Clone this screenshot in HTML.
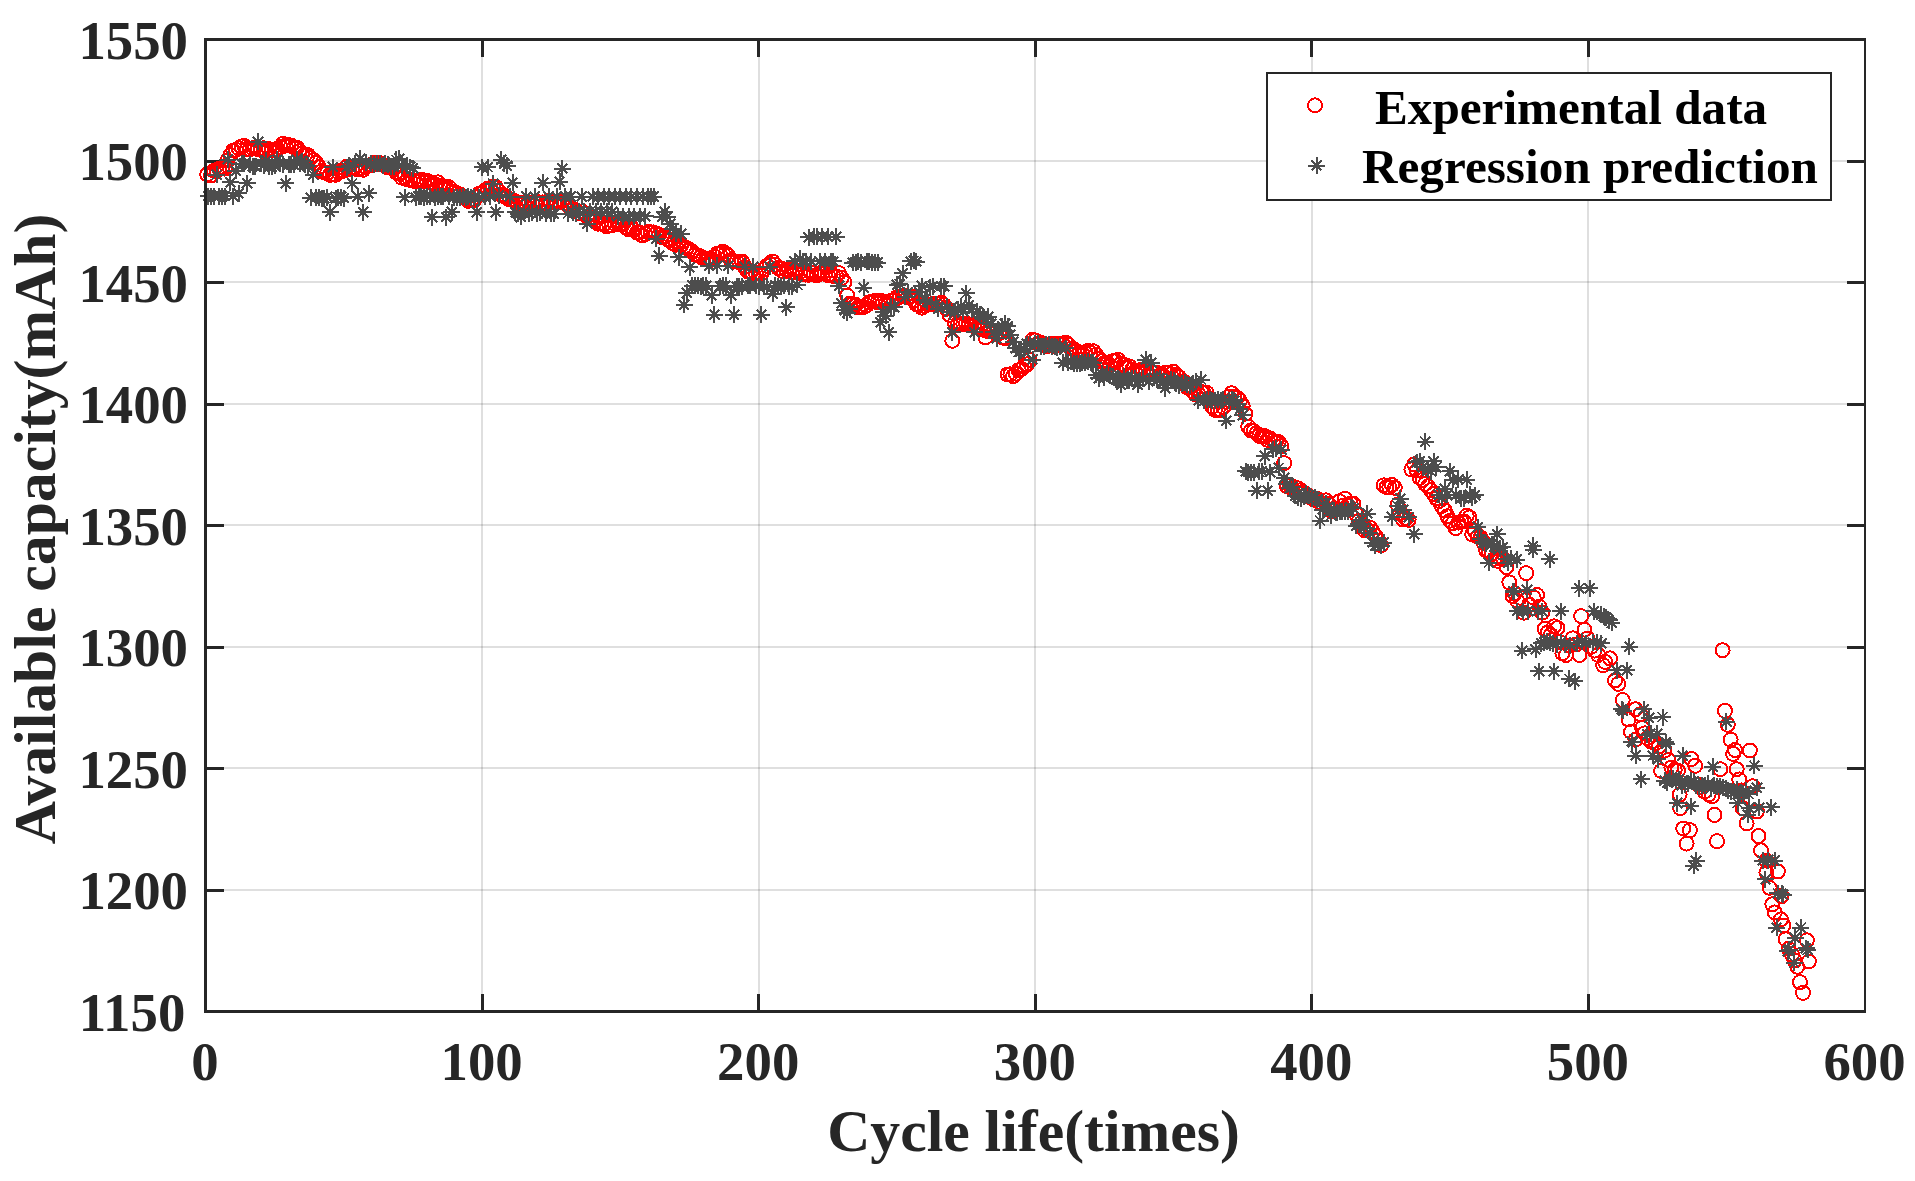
<!DOCTYPE html>
<html><head><meta charset="utf-8"><title>Available capacity vs cycle life</title>
<style>html,body{margin:0;padding:0;background:#fff}svg{display:block}text{font-family:"Liberation Serif","Times New Roman",serif;font-weight:bold}</style></head><body>
<svg width="1915" height="1181" viewBox="0 0 1915 1181">
<rect width="1915" height="1181" fill="#fff"/>
<path d="M482 39.5V1011.5M759 39.5V1011.5M1035 39.5V1011.5M1312 39.5V1011.5M1588 39.5V1011.5" stroke="#262626" stroke-opacity="0.15" stroke-width="2" fill="none" shape-rendering="crispEdges"/>
<path d="M205.5 890H1865.0M205.5 768H1865.0M205.5 647H1865.0M205.5 525H1865.0M205.5 404H1865.0M205.5 282H1865.0M205.5 161H1865.0" stroke="#262626" stroke-opacity="0.15" stroke-width="2" fill="none" shape-rendering="crispEdges"/>
<path d="M482.1 1011.5v-17.4M482.1 39.5v17.4M758.7 1011.5v-17.4M758.7 39.5v17.4M1035.2 1011.5v-17.4M1035.2 39.5v17.4M1311.8 1011.5v-17.4M1311.8 39.5v17.4M1588.4 1011.5v-17.4M1588.4 39.5v17.4M205.5 890.0h18.3M1865.0 890.0h-18.3M205.5 768.5h18.3M1865.0 768.5h-18.3M205.5 647.0h18.3M1865.0 647.0h-18.3M205.5 525.5h18.3M1865.0 525.5h-18.3M205.5 404.0h18.3M1865.0 404.0h-18.3M205.5 282.5h18.3M1865.0 282.5h-18.3M205.5 161.0h18.3M1865.0 161.0h-18.3" stroke="#262626" stroke-width="3" fill="none" shape-rendering="crispEdges"/>
<path d="M200.2 174.4a7.0 7.0 0 1 0 14.0 0a7.0 7.0 0 1 0 -14.0 0M204.0 175.6a7.0 7.0 0 1 0 14.0 0a7.0 7.0 0 1 0 -14.0 0M206.8 170.8a7.0 7.0 0 1 0 14.0 0a7.0 7.0 0 1 0 -14.0 0M209.6 171.2a7.0 7.0 0 1 0 14.0 0a7.0 7.0 0 1 0 -14.0 0M212.3 168.7a7.0 7.0 0 1 0 14.0 0a7.0 7.0 0 1 0 -14.0 0M215.1 168.4a7.0 7.0 0 1 0 14.0 0a7.0 7.0 0 1 0 -14.0 0M217.9 168.6a7.0 7.0 0 1 0 14.0 0a7.0 7.0 0 1 0 -14.0 0M220.6 160.4a7.0 7.0 0 1 0 14.0 0a7.0 7.0 0 1 0 -14.0 0M223.4 155.3a7.0 7.0 0 1 0 14.0 0a7.0 7.0 0 1 0 -14.0 0M226.2 150.6a7.0 7.0 0 1 0 14.0 0a7.0 7.0 0 1 0 -14.0 0M228.9 149.8a7.0 7.0 0 1 0 14.0 0a7.0 7.0 0 1 0 -14.0 0M231.7 148.3a7.0 7.0 0 1 0 14.0 0a7.0 7.0 0 1 0 -14.0 0M234.5 146.4a7.0 7.0 0 1 0 14.0 0a7.0 7.0 0 1 0 -14.0 0M237.2 145.8a7.0 7.0 0 1 0 14.0 0a7.0 7.0 0 1 0 -14.0 0M240.0 148.9a7.0 7.0 0 1 0 14.0 0a7.0 7.0 0 1 0 -14.0 0M242.8 149.3a7.0 7.0 0 1 0 14.0 0a7.0 7.0 0 1 0 -14.0 0M245.5 148.3a7.0 7.0 0 1 0 14.0 0a7.0 7.0 0 1 0 -14.0 0M248.3 147.5a7.0 7.0 0 1 0 14.0 0a7.0 7.0 0 1 0 -14.0 0M251.1 149.0a7.0 7.0 0 1 0 14.0 0a7.0 7.0 0 1 0 -14.0 0M253.8 149.9a7.0 7.0 0 1 0 14.0 0a7.0 7.0 0 1 0 -14.0 0M256.6 148.2a7.0 7.0 0 1 0 14.0 0a7.0 7.0 0 1 0 -14.0 0M259.3 151.6a7.0 7.0 0 1 0 14.0 0a7.0 7.0 0 1 0 -14.0 0M262.1 149.1a7.0 7.0 0 1 0 14.0 0a7.0 7.0 0 1 0 -14.0 0M264.9 150.1a7.0 7.0 0 1 0 14.0 0a7.0 7.0 0 1 0 -14.0 0M267.6 149.7a7.0 7.0 0 1 0 14.0 0a7.0 7.0 0 1 0 -14.0 0M270.4 148.9a7.0 7.0 0 1 0 14.0 0a7.0 7.0 0 1 0 -14.0 0M273.2 147.0a7.0 7.0 0 1 0 14.0 0a7.0 7.0 0 1 0 -14.0 0M275.9 143.9a7.0 7.0 0 1 0 14.0 0a7.0 7.0 0 1 0 -14.0 0M278.7 145.6a7.0 7.0 0 1 0 14.0 0a7.0 7.0 0 1 0 -14.0 0M281.5 145.0a7.0 7.0 0 1 0 14.0 0a7.0 7.0 0 1 0 -14.0 0M284.2 145.6a7.0 7.0 0 1 0 14.0 0a7.0 7.0 0 1 0 -14.0 0M287.0 147.3a7.0 7.0 0 1 0 14.0 0a7.0 7.0 0 1 0 -14.0 0M289.8 147.5a7.0 7.0 0 1 0 14.0 0a7.0 7.0 0 1 0 -14.0 0M292.5 151.1a7.0 7.0 0 1 0 14.0 0a7.0 7.0 0 1 0 -14.0 0M295.3 153.2a7.0 7.0 0 1 0 14.0 0a7.0 7.0 0 1 0 -14.0 0M298.1 154.7a7.0 7.0 0 1 0 14.0 0a7.0 7.0 0 1 0 -14.0 0M300.8 155.0a7.0 7.0 0 1 0 14.0 0a7.0 7.0 0 1 0 -14.0 0M303.6 157.8a7.0 7.0 0 1 0 14.0 0a7.0 7.0 0 1 0 -14.0 0M306.4 160.2a7.0 7.0 0 1 0 14.0 0a7.0 7.0 0 1 0 -14.0 0M309.1 162.9a7.0 7.0 0 1 0 14.0 0a7.0 7.0 0 1 0 -14.0 0M311.9 167.1a7.0 7.0 0 1 0 14.0 0a7.0 7.0 0 1 0 -14.0 0M314.7 171.3a7.0 7.0 0 1 0 14.0 0a7.0 7.0 0 1 0 -14.0 0M317.4 172.3a7.0 7.0 0 1 0 14.0 0a7.0 7.0 0 1 0 -14.0 0M320.2 173.0a7.0 7.0 0 1 0 14.0 0a7.0 7.0 0 1 0 -14.0 0M323.0 174.9a7.0 7.0 0 1 0 14.0 0a7.0 7.0 0 1 0 -14.0 0M325.7 174.2a7.0 7.0 0 1 0 14.0 0a7.0 7.0 0 1 0 -14.0 0M328.5 174.8a7.0 7.0 0 1 0 14.0 0a7.0 7.0 0 1 0 -14.0 0M331.3 172.0a7.0 7.0 0 1 0 14.0 0a7.0 7.0 0 1 0 -14.0 0M334.0 170.9a7.0 7.0 0 1 0 14.0 0a7.0 7.0 0 1 0 -14.0 0M336.8 170.8a7.0 7.0 0 1 0 14.0 0a7.0 7.0 0 1 0 -14.0 0M339.6 166.9a7.0 7.0 0 1 0 14.0 0a7.0 7.0 0 1 0 -14.0 0M342.3 169.4a7.0 7.0 0 1 0 14.0 0a7.0 7.0 0 1 0 -14.0 0M345.1 168.4a7.0 7.0 0 1 0 14.0 0a7.0 7.0 0 1 0 -14.0 0M347.9 167.3a7.0 7.0 0 1 0 14.0 0a7.0 7.0 0 1 0 -14.0 0M350.6 169.4a7.0 7.0 0 1 0 14.0 0a7.0 7.0 0 1 0 -14.0 0M353.4 168.3a7.0 7.0 0 1 0 14.0 0a7.0 7.0 0 1 0 -14.0 0M356.2 169.8a7.0 7.0 0 1 0 14.0 0a7.0 7.0 0 1 0 -14.0 0M358.9 167.1a7.0 7.0 0 1 0 14.0 0a7.0 7.0 0 1 0 -14.0 0M361.7 165.6a7.0 7.0 0 1 0 14.0 0a7.0 7.0 0 1 0 -14.0 0M364.4 165.2a7.0 7.0 0 1 0 14.0 0a7.0 7.0 0 1 0 -14.0 0M367.2 163.1a7.0 7.0 0 1 0 14.0 0a7.0 7.0 0 1 0 -14.0 0M370.0 163.9a7.0 7.0 0 1 0 14.0 0a7.0 7.0 0 1 0 -14.0 0M372.7 163.1a7.0 7.0 0 1 0 14.0 0a7.0 7.0 0 1 0 -14.0 0M375.5 164.6a7.0 7.0 0 1 0 14.0 0a7.0 7.0 0 1 0 -14.0 0M378.3 165.9a7.0 7.0 0 1 0 14.0 0a7.0 7.0 0 1 0 -14.0 0M381.0 167.5a7.0 7.0 0 1 0 14.0 0a7.0 7.0 0 1 0 -14.0 0M383.8 167.6a7.0 7.0 0 1 0 14.0 0a7.0 7.0 0 1 0 -14.0 0M386.6 169.1a7.0 7.0 0 1 0 14.0 0a7.0 7.0 0 1 0 -14.0 0M389.3 172.5a7.0 7.0 0 1 0 14.0 0a7.0 7.0 0 1 0 -14.0 0M392.1 173.7a7.0 7.0 0 1 0 14.0 0a7.0 7.0 0 1 0 -14.0 0M394.9 177.7a7.0 7.0 0 1 0 14.0 0a7.0 7.0 0 1 0 -14.0 0M397.6 177.4a7.0 7.0 0 1 0 14.0 0a7.0 7.0 0 1 0 -14.0 0M400.4 179.5a7.0 7.0 0 1 0 14.0 0a7.0 7.0 0 1 0 -14.0 0M403.2 179.9a7.0 7.0 0 1 0 14.0 0a7.0 7.0 0 1 0 -14.0 0M405.9 180.2a7.0 7.0 0 1 0 14.0 0a7.0 7.0 0 1 0 -14.0 0M408.7 181.7a7.0 7.0 0 1 0 14.0 0a7.0 7.0 0 1 0 -14.0 0M411.5 181.0a7.0 7.0 0 1 0 14.0 0a7.0 7.0 0 1 0 -14.0 0M414.2 179.7a7.0 7.0 0 1 0 14.0 0a7.0 7.0 0 1 0 -14.0 0M417.0 181.7a7.0 7.0 0 1 0 14.0 0a7.0 7.0 0 1 0 -14.0 0M419.8 180.8a7.0 7.0 0 1 0 14.0 0a7.0 7.0 0 1 0 -14.0 0M422.5 182.4a7.0 7.0 0 1 0 14.0 0a7.0 7.0 0 1 0 -14.0 0M425.3 183.2a7.0 7.0 0 1 0 14.0 0a7.0 7.0 0 1 0 -14.0 0M428.1 184.1a7.0 7.0 0 1 0 14.0 0a7.0 7.0 0 1 0 -14.0 0M430.8 182.3a7.0 7.0 0 1 0 14.0 0a7.0 7.0 0 1 0 -14.0 0M433.6 185.6a7.0 7.0 0 1 0 14.0 0a7.0 7.0 0 1 0 -14.0 0M436.4 186.6a7.0 7.0 0 1 0 14.0 0a7.0 7.0 0 1 0 -14.0 0M439.1 187.5a7.0 7.0 0 1 0 14.0 0a7.0 7.0 0 1 0 -14.0 0M441.9 187.2a7.0 7.0 0 1 0 14.0 0a7.0 7.0 0 1 0 -14.0 0M444.7 191.3a7.0 7.0 0 1 0 14.0 0a7.0 7.0 0 1 0 -14.0 0M447.4 192.0a7.0 7.0 0 1 0 14.0 0a7.0 7.0 0 1 0 -14.0 0M450.2 193.7a7.0 7.0 0 1 0 14.0 0a7.0 7.0 0 1 0 -14.0 0M453.0 194.5a7.0 7.0 0 1 0 14.0 0a7.0 7.0 0 1 0 -14.0 0M455.7 196.8a7.0 7.0 0 1 0 14.0 0a7.0 7.0 0 1 0 -14.0 0M458.5 198.7a7.0 7.0 0 1 0 14.0 0a7.0 7.0 0 1 0 -14.0 0M461.3 200.9a7.0 7.0 0 1 0 14.0 0a7.0 7.0 0 1 0 -14.0 0M464.0 200.4a7.0 7.0 0 1 0 14.0 0a7.0 7.0 0 1 0 -14.0 0M466.8 200.6a7.0 7.0 0 1 0 14.0 0a7.0 7.0 0 1 0 -14.0 0M469.6 196.6a7.0 7.0 0 1 0 14.0 0a7.0 7.0 0 1 0 -14.0 0M472.3 193.6a7.0 7.0 0 1 0 14.0 0a7.0 7.0 0 1 0 -14.0 0M475.1 193.6a7.0 7.0 0 1 0 14.0 0a7.0 7.0 0 1 0 -14.0 0M477.8 190.7a7.0 7.0 0 1 0 14.0 0a7.0 7.0 0 1 0 -14.0 0M480.6 188.8a7.0 7.0 0 1 0 14.0 0a7.0 7.0 0 1 0 -14.0 0M483.4 188.2a7.0 7.0 0 1 0 14.0 0a7.0 7.0 0 1 0 -14.0 0M486.1 186.7a7.0 7.0 0 1 0 14.0 0a7.0 7.0 0 1 0 -14.0 0M488.9 186.9a7.0 7.0 0 1 0 14.0 0a7.0 7.0 0 1 0 -14.0 0M491.7 191.2a7.0 7.0 0 1 0 14.0 0a7.0 7.0 0 1 0 -14.0 0M494.4 194.7a7.0 7.0 0 1 0 14.0 0a7.0 7.0 0 1 0 -14.0 0M497.2 195.5a7.0 7.0 0 1 0 14.0 0a7.0 7.0 0 1 0 -14.0 0M500.0 198.0a7.0 7.0 0 1 0 14.0 0a7.0 7.0 0 1 0 -14.0 0M502.7 199.5a7.0 7.0 0 1 0 14.0 0a7.0 7.0 0 1 0 -14.0 0M505.5 200.1a7.0 7.0 0 1 0 14.0 0a7.0 7.0 0 1 0 -14.0 0M508.3 201.6a7.0 7.0 0 1 0 14.0 0a7.0 7.0 0 1 0 -14.0 0M511.0 202.7a7.0 7.0 0 1 0 14.0 0a7.0 7.0 0 1 0 -14.0 0M513.8 202.8a7.0 7.0 0 1 0 14.0 0a7.0 7.0 0 1 0 -14.0 0M516.6 203.2a7.0 7.0 0 1 0 14.0 0a7.0 7.0 0 1 0 -14.0 0M519.3 205.8a7.0 7.0 0 1 0 14.0 0a7.0 7.0 0 1 0 -14.0 0M522.1 203.3a7.0 7.0 0 1 0 14.0 0a7.0 7.0 0 1 0 -14.0 0M524.9 203.2a7.0 7.0 0 1 0 14.0 0a7.0 7.0 0 1 0 -14.0 0M527.6 202.4a7.0 7.0 0 1 0 14.0 0a7.0 7.0 0 1 0 -14.0 0M530.4 202.1a7.0 7.0 0 1 0 14.0 0a7.0 7.0 0 1 0 -14.0 0M533.2 203.0a7.0 7.0 0 1 0 14.0 0a7.0 7.0 0 1 0 -14.0 0M535.9 202.4a7.0 7.0 0 1 0 14.0 0a7.0 7.0 0 1 0 -14.0 0M538.7 202.9a7.0 7.0 0 1 0 14.0 0a7.0 7.0 0 1 0 -14.0 0M541.5 200.8a7.0 7.0 0 1 0 14.0 0a7.0 7.0 0 1 0 -14.0 0M544.2 202.5a7.0 7.0 0 1 0 14.0 0a7.0 7.0 0 1 0 -14.0 0M547.0 202.2a7.0 7.0 0 1 0 14.0 0a7.0 7.0 0 1 0 -14.0 0M549.8 201.5a7.0 7.0 0 1 0 14.0 0a7.0 7.0 0 1 0 -14.0 0M552.5 201.3a7.0 7.0 0 1 0 14.0 0a7.0 7.0 0 1 0 -14.0 0M555.3 200.5a7.0 7.0 0 1 0 14.0 0a7.0 7.0 0 1 0 -14.0 0M558.1 203.2a7.0 7.0 0 1 0 14.0 0a7.0 7.0 0 1 0 -14.0 0M560.8 205.4a7.0 7.0 0 1 0 14.0 0a7.0 7.0 0 1 0 -14.0 0M563.6 207.0a7.0 7.0 0 1 0 14.0 0a7.0 7.0 0 1 0 -14.0 0M566.4 209.2a7.0 7.0 0 1 0 14.0 0a7.0 7.0 0 1 0 -14.0 0M569.1 210.3a7.0 7.0 0 1 0 14.0 0a7.0 7.0 0 1 0 -14.0 0M571.9 212.8a7.0 7.0 0 1 0 14.0 0a7.0 7.0 0 1 0 -14.0 0M574.7 211.3a7.0 7.0 0 1 0 14.0 0a7.0 7.0 0 1 0 -14.0 0M577.4 213.6a7.0 7.0 0 1 0 14.0 0a7.0 7.0 0 1 0 -14.0 0M580.2 216.6a7.0 7.0 0 1 0 14.0 0a7.0 7.0 0 1 0 -14.0 0M583.0 217.7a7.0 7.0 0 1 0 14.0 0a7.0 7.0 0 1 0 -14.0 0M585.7 219.2a7.0 7.0 0 1 0 14.0 0a7.0 7.0 0 1 0 -14.0 0M588.5 221.0a7.0 7.0 0 1 0 14.0 0a7.0 7.0 0 1 0 -14.0 0M591.2 223.7a7.0 7.0 0 1 0 14.0 0a7.0 7.0 0 1 0 -14.0 0M594.0 223.1a7.0 7.0 0 1 0 14.0 0a7.0 7.0 0 1 0 -14.0 0M596.8 224.4a7.0 7.0 0 1 0 14.0 0a7.0 7.0 0 1 0 -14.0 0M599.5 226.3a7.0 7.0 0 1 0 14.0 0a7.0 7.0 0 1 0 -14.0 0M602.3 225.0a7.0 7.0 0 1 0 14.0 0a7.0 7.0 0 1 0 -14.0 0M605.1 225.2a7.0 7.0 0 1 0 14.0 0a7.0 7.0 0 1 0 -14.0 0M607.8 223.9a7.0 7.0 0 1 0 14.0 0a7.0 7.0 0 1 0 -14.0 0M610.6 222.7a7.0 7.0 0 1 0 14.0 0a7.0 7.0 0 1 0 -14.0 0M613.4 224.4a7.0 7.0 0 1 0 14.0 0a7.0 7.0 0 1 0 -14.0 0M616.1 223.8a7.0 7.0 0 1 0 14.0 0a7.0 7.0 0 1 0 -14.0 0M618.9 227.5a7.0 7.0 0 1 0 14.0 0a7.0 7.0 0 1 0 -14.0 0M621.7 229.3a7.0 7.0 0 1 0 14.0 0a7.0 7.0 0 1 0 -14.0 0M624.4 227.5a7.0 7.0 0 1 0 14.0 0a7.0 7.0 0 1 0 -14.0 0M627.2 230.1a7.0 7.0 0 1 0 14.0 0a7.0 7.0 0 1 0 -14.0 0M630.0 232.6a7.0 7.0 0 1 0 14.0 0a7.0 7.0 0 1 0 -14.0 0M632.7 232.5a7.0 7.0 0 1 0 14.0 0a7.0 7.0 0 1 0 -14.0 0M635.5 235.4a7.0 7.0 0 1 0 14.0 0a7.0 7.0 0 1 0 -14.0 0M638.3 234.1a7.0 7.0 0 1 0 14.0 0a7.0 7.0 0 1 0 -14.0 0M641.0 232.2a7.0 7.0 0 1 0 14.0 0a7.0 7.0 0 1 0 -14.0 0M643.8 232.2a7.0 7.0 0 1 0 14.0 0a7.0 7.0 0 1 0 -14.0 0M646.6 232.4a7.0 7.0 0 1 0 14.0 0a7.0 7.0 0 1 0 -14.0 0M649.3 233.5a7.0 7.0 0 1 0 14.0 0a7.0 7.0 0 1 0 -14.0 0M652.1 234.8a7.0 7.0 0 1 0 14.0 0a7.0 7.0 0 1 0 -14.0 0M654.9 237.1a7.0 7.0 0 1 0 14.0 0a7.0 7.0 0 1 0 -14.0 0M657.6 236.6a7.0 7.0 0 1 0 14.0 0a7.0 7.0 0 1 0 -14.0 0M660.4 239.1a7.0 7.0 0 1 0 14.0 0a7.0 7.0 0 1 0 -14.0 0M663.2 239.9a7.0 7.0 0 1 0 14.0 0a7.0 7.0 0 1 0 -14.0 0M665.9 243.1a7.0 7.0 0 1 0 14.0 0a7.0 7.0 0 1 0 -14.0 0M668.7 244.8a7.0 7.0 0 1 0 14.0 0a7.0 7.0 0 1 0 -14.0 0M671.5 244.2a7.0 7.0 0 1 0 14.0 0a7.0 7.0 0 1 0 -14.0 0M674.2 244.9a7.0 7.0 0 1 0 14.0 0a7.0 7.0 0 1 0 -14.0 0M677.0 246.7a7.0 7.0 0 1 0 14.0 0a7.0 7.0 0 1 0 -14.0 0M679.8 248.2a7.0 7.0 0 1 0 14.0 0a7.0 7.0 0 1 0 -14.0 0M682.5 249.7a7.0 7.0 0 1 0 14.0 0a7.0 7.0 0 1 0 -14.0 0M685.3 251.5a7.0 7.0 0 1 0 14.0 0a7.0 7.0 0 1 0 -14.0 0M688.1 254.8a7.0 7.0 0 1 0 14.0 0a7.0 7.0 0 1 0 -14.0 0M690.8 255.3a7.0 7.0 0 1 0 14.0 0a7.0 7.0 0 1 0 -14.0 0M693.6 256.6a7.0 7.0 0 1 0 14.0 0a7.0 7.0 0 1 0 -14.0 0M696.4 258.4a7.0 7.0 0 1 0 14.0 0a7.0 7.0 0 1 0 -14.0 0M699.1 259.1a7.0 7.0 0 1 0 14.0 0a7.0 7.0 0 1 0 -14.0 0M701.9 259.0a7.0 7.0 0 1 0 14.0 0a7.0 7.0 0 1 0 -14.0 0M704.6 259.7a7.0 7.0 0 1 0 14.0 0a7.0 7.0 0 1 0 -14.0 0M707.4 256.5a7.0 7.0 0 1 0 14.0 0a7.0 7.0 0 1 0 -14.0 0M710.2 253.8a7.0 7.0 0 1 0 14.0 0a7.0 7.0 0 1 0 -14.0 0M712.9 253.8a7.0 7.0 0 1 0 14.0 0a7.0 7.0 0 1 0 -14.0 0M715.7 251.6a7.0 7.0 0 1 0 14.0 0a7.0 7.0 0 1 0 -14.0 0M718.5 253.6a7.0 7.0 0 1 0 14.0 0a7.0 7.0 0 1 0 -14.0 0M721.2 256.0a7.0 7.0 0 1 0 14.0 0a7.0 7.0 0 1 0 -14.0 0M724.0 260.2a7.0 7.0 0 1 0 14.0 0a7.0 7.0 0 1 0 -14.0 0M726.8 261.6a7.0 7.0 0 1 0 14.0 0a7.0 7.0 0 1 0 -14.0 0M729.5 261.6a7.0 7.0 0 1 0 14.0 0a7.0 7.0 0 1 0 -14.0 0M732.3 261.7a7.0 7.0 0 1 0 14.0 0a7.0 7.0 0 1 0 -14.0 0M735.1 261.6a7.0 7.0 0 1 0 14.0 0a7.0 7.0 0 1 0 -14.0 0M737.8 267.0a7.0 7.0 0 1 0 14.0 0a7.0 7.0 0 1 0 -14.0 0M740.6 271.4a7.0 7.0 0 1 0 14.0 0a7.0 7.0 0 1 0 -14.0 0M743.4 272.0a7.0 7.0 0 1 0 14.0 0a7.0 7.0 0 1 0 -14.0 0M746.1 273.6a7.0 7.0 0 1 0 14.0 0a7.0 7.0 0 1 0 -14.0 0M748.9 273.3a7.0 7.0 0 1 0 14.0 0a7.0 7.0 0 1 0 -14.0 0M751.7 273.2a7.0 7.0 0 1 0 14.0 0a7.0 7.0 0 1 0 -14.0 0M754.4 273.5a7.0 7.0 0 1 0 14.0 0a7.0 7.0 0 1 0 -14.0 0M757.2 269.1a7.0 7.0 0 1 0 14.0 0a7.0 7.0 0 1 0 -14.0 0M760.0 265.8a7.0 7.0 0 1 0 14.0 0a7.0 7.0 0 1 0 -14.0 0M762.7 263.8a7.0 7.0 0 1 0 14.0 0a7.0 7.0 0 1 0 -14.0 0M765.5 261.5a7.0 7.0 0 1 0 14.0 0a7.0 7.0 0 1 0 -14.0 0M768.3 264.7a7.0 7.0 0 1 0 14.0 0a7.0 7.0 0 1 0 -14.0 0M771.0 268.0a7.0 7.0 0 1 0 14.0 0a7.0 7.0 0 1 0 -14.0 0M773.8 268.2a7.0 7.0 0 1 0 14.0 0a7.0 7.0 0 1 0 -14.0 0M776.6 271.5a7.0 7.0 0 1 0 14.0 0a7.0 7.0 0 1 0 -14.0 0M779.3 270.2a7.0 7.0 0 1 0 14.0 0a7.0 7.0 0 1 0 -14.0 0M782.1 269.9a7.0 7.0 0 1 0 14.0 0a7.0 7.0 0 1 0 -14.0 0M784.9 272.1a7.0 7.0 0 1 0 14.0 0a7.0 7.0 0 1 0 -14.0 0M787.6 272.4a7.0 7.0 0 1 0 14.0 0a7.0 7.0 0 1 0 -14.0 0M790.4 270.8a7.0 7.0 0 1 0 14.0 0a7.0 7.0 0 1 0 -14.0 0M793.2 271.8a7.0 7.0 0 1 0 14.0 0a7.0 7.0 0 1 0 -14.0 0M795.9 274.1a7.0 7.0 0 1 0 14.0 0a7.0 7.0 0 1 0 -14.0 0M798.7 274.6a7.0 7.0 0 1 0 14.0 0a7.0 7.0 0 1 0 -14.0 0M801.5 274.8a7.0 7.0 0 1 0 14.0 0a7.0 7.0 0 1 0 -14.0 0M804.2 272.6a7.0 7.0 0 1 0 14.0 0a7.0 7.0 0 1 0 -14.0 0M807.0 273.2a7.0 7.0 0 1 0 14.0 0a7.0 7.0 0 1 0 -14.0 0M809.7 275.5a7.0 7.0 0 1 0 14.0 0a7.0 7.0 0 1 0 -14.0 0M812.5 273.2a7.0 7.0 0 1 0 14.0 0a7.0 7.0 0 1 0 -14.0 0M815.3 272.8a7.0 7.0 0 1 0 14.0 0a7.0 7.0 0 1 0 -14.0 0M818.0 273.9a7.0 7.0 0 1 0 14.0 0a7.0 7.0 0 1 0 -14.0 0M820.8 275.0a7.0 7.0 0 1 0 14.0 0a7.0 7.0 0 1 0 -14.0 0M823.6 274.4a7.0 7.0 0 1 0 14.0 0a7.0 7.0 0 1 0 -14.0 0M826.3 275.9a7.0 7.0 0 1 0 14.0 0a7.0 7.0 0 1 0 -14.0 0M829.1 276.3a7.0 7.0 0 1 0 14.0 0a7.0 7.0 0 1 0 -14.0 0M831.9 273.1a7.0 7.0 0 1 0 14.0 0a7.0 7.0 0 1 0 -14.0 0M834.6 278.1a7.0 7.0 0 1 0 14.0 0a7.0 7.0 0 1 0 -14.0 0M837.4 282.4a7.0 7.0 0 1 0 14.0 0a7.0 7.0 0 1 0 -14.0 0M840.2 295.6a7.0 7.0 0 1 0 14.0 0a7.0 7.0 0 1 0 -14.0 0M842.9 303.7a7.0 7.0 0 1 0 14.0 0a7.0 7.0 0 1 0 -14.0 0M845.7 304.4a7.0 7.0 0 1 0 14.0 0a7.0 7.0 0 1 0 -14.0 0M848.5 304.9a7.0 7.0 0 1 0 14.0 0a7.0 7.0 0 1 0 -14.0 0M851.2 307.4a7.0 7.0 0 1 0 14.0 0a7.0 7.0 0 1 0 -14.0 0M854.0 307.6a7.0 7.0 0 1 0 14.0 0a7.0 7.0 0 1 0 -14.0 0M856.8 307.0a7.0 7.0 0 1 0 14.0 0a7.0 7.0 0 1 0 -14.0 0M859.5 305.4a7.0 7.0 0 1 0 14.0 0a7.0 7.0 0 1 0 -14.0 0M862.3 302.3a7.0 7.0 0 1 0 14.0 0a7.0 7.0 0 1 0 -14.0 0M865.1 301.6a7.0 7.0 0 1 0 14.0 0a7.0 7.0 0 1 0 -14.0 0M867.8 300.9a7.0 7.0 0 1 0 14.0 0a7.0 7.0 0 1 0 -14.0 0M870.6 302.5a7.0 7.0 0 1 0 14.0 0a7.0 7.0 0 1 0 -14.0 0M873.4 300.5a7.0 7.0 0 1 0 14.0 0a7.0 7.0 0 1 0 -14.0 0M876.1 303.0a7.0 7.0 0 1 0 14.0 0a7.0 7.0 0 1 0 -14.0 0M878.9 303.3a7.0 7.0 0 1 0 14.0 0a7.0 7.0 0 1 0 -14.0 0M881.7 303.0a7.0 7.0 0 1 0 14.0 0a7.0 7.0 0 1 0 -14.0 0M884.4 300.4a7.0 7.0 0 1 0 14.0 0a7.0 7.0 0 1 0 -14.0 0M887.2 300.4a7.0 7.0 0 1 0 14.0 0a7.0 7.0 0 1 0 -14.0 0M890.0 297.2a7.0 7.0 0 1 0 14.0 0a7.0 7.0 0 1 0 -14.0 0M892.7 297.0a7.0 7.0 0 1 0 14.0 0a7.0 7.0 0 1 0 -14.0 0M895.5 296.3a7.0 7.0 0 1 0 14.0 0a7.0 7.0 0 1 0 -14.0 0M898.3 295.9a7.0 7.0 0 1 0 14.0 0a7.0 7.0 0 1 0 -14.0 0M901.0 297.1a7.0 7.0 0 1 0 14.0 0a7.0 7.0 0 1 0 -14.0 0M903.8 296.3a7.0 7.0 0 1 0 14.0 0a7.0 7.0 0 1 0 -14.0 0M906.6 300.4a7.0 7.0 0 1 0 14.0 0a7.0 7.0 0 1 0 -14.0 0M909.3 304.2a7.0 7.0 0 1 0 14.0 0a7.0 7.0 0 1 0 -14.0 0M912.1 304.7a7.0 7.0 0 1 0 14.0 0a7.0 7.0 0 1 0 -14.0 0M914.9 307.7a7.0 7.0 0 1 0 14.0 0a7.0 7.0 0 1 0 -14.0 0M917.6 306.0a7.0 7.0 0 1 0 14.0 0a7.0 7.0 0 1 0 -14.0 0M920.4 304.5a7.0 7.0 0 1 0 14.0 0a7.0 7.0 0 1 0 -14.0 0M923.1 304.4a7.0 7.0 0 1 0 14.0 0a7.0 7.0 0 1 0 -14.0 0M925.9 304.4a7.0 7.0 0 1 0 14.0 0a7.0 7.0 0 1 0 -14.0 0M928.7 303.6a7.0 7.0 0 1 0 14.0 0a7.0 7.0 0 1 0 -14.0 0M931.4 303.5a7.0 7.0 0 1 0 14.0 0a7.0 7.0 0 1 0 -14.0 0M934.2 302.7a7.0 7.0 0 1 0 14.0 0a7.0 7.0 0 1 0 -14.0 0M937.0 305.0a7.0 7.0 0 1 0 14.0 0a7.0 7.0 0 1 0 -14.0 0M939.7 308.7a7.0 7.0 0 1 0 14.0 0a7.0 7.0 0 1 0 -14.0 0M942.5 314.9a7.0 7.0 0 1 0 14.0 0a7.0 7.0 0 1 0 -14.0 0M945.3 340.8a7.0 7.0 0 1 0 14.0 0a7.0 7.0 0 1 0 -14.0 0M948.0 322.9a7.0 7.0 0 1 0 14.0 0a7.0 7.0 0 1 0 -14.0 0M950.8 324.0a7.0 7.0 0 1 0 14.0 0a7.0 7.0 0 1 0 -14.0 0M953.6 324.1a7.0 7.0 0 1 0 14.0 0a7.0 7.0 0 1 0 -14.0 0M956.3 323.7a7.0 7.0 0 1 0 14.0 0a7.0 7.0 0 1 0 -14.0 0M959.1 323.5a7.0 7.0 0 1 0 14.0 0a7.0 7.0 0 1 0 -14.0 0M961.9 325.3a7.0 7.0 0 1 0 14.0 0a7.0 7.0 0 1 0 -14.0 0M964.6 325.0a7.0 7.0 0 1 0 14.0 0a7.0 7.0 0 1 0 -14.0 0M967.4 326.2a7.0 7.0 0 1 0 14.0 0a7.0 7.0 0 1 0 -14.0 0M970.2 327.2a7.0 7.0 0 1 0 14.0 0a7.0 7.0 0 1 0 -14.0 0M972.9 327.7a7.0 7.0 0 1 0 14.0 0a7.0 7.0 0 1 0 -14.0 0M975.7 329.6a7.0 7.0 0 1 0 14.0 0a7.0 7.0 0 1 0 -14.0 0M978.5 337.4a7.0 7.0 0 1 0 14.0 0a7.0 7.0 0 1 0 -14.0 0M981.2 331.2a7.0 7.0 0 1 0 14.0 0a7.0 7.0 0 1 0 -14.0 0M984.0 330.4a7.0 7.0 0 1 0 14.0 0a7.0 7.0 0 1 0 -14.0 0M986.8 332.0a7.0 7.0 0 1 0 14.0 0a7.0 7.0 0 1 0 -14.0 0M989.5 332.2a7.0 7.0 0 1 0 14.0 0a7.0 7.0 0 1 0 -14.0 0M992.3 333.2a7.0 7.0 0 1 0 14.0 0a7.0 7.0 0 1 0 -14.0 0M995.1 337.4a7.0 7.0 0 1 0 14.0 0a7.0 7.0 0 1 0 -14.0 0M997.8 338.2a7.0 7.0 0 1 0 14.0 0a7.0 7.0 0 1 0 -14.0 0M1000.6 374.5a7.0 7.0 0 1 0 14.0 0a7.0 7.0 0 1 0 -14.0 0M1003.4 374.3a7.0 7.0 0 1 0 14.0 0a7.0 7.0 0 1 0 -14.0 0M1006.1 376.1a7.0 7.0 0 1 0 14.0 0a7.0 7.0 0 1 0 -14.0 0M1008.9 373.7a7.0 7.0 0 1 0 14.0 0a7.0 7.0 0 1 0 -14.0 0M1011.7 370.2a7.0 7.0 0 1 0 14.0 0a7.0 7.0 0 1 0 -14.0 0M1014.4 369.0a7.0 7.0 0 1 0 14.0 0a7.0 7.0 0 1 0 -14.0 0M1017.2 366.1a7.0 7.0 0 1 0 14.0 0a7.0 7.0 0 1 0 -14.0 0M1020.0 364.4a7.0 7.0 0 1 0 14.0 0a7.0 7.0 0 1 0 -14.0 0M1022.7 360.1a7.0 7.0 0 1 0 14.0 0a7.0 7.0 0 1 0 -14.0 0M1025.5 339.9a7.0 7.0 0 1 0 14.0 0a7.0 7.0 0 1 0 -14.0 0M1028.2 340.3a7.0 7.0 0 1 0 14.0 0a7.0 7.0 0 1 0 -14.0 0M1031.0 343.7a7.0 7.0 0 1 0 14.0 0a7.0 7.0 0 1 0 -14.0 0M1033.8 342.7a7.0 7.0 0 1 0 14.0 0a7.0 7.0 0 1 0 -14.0 0M1036.5 343.7a7.0 7.0 0 1 0 14.0 0a7.0 7.0 0 1 0 -14.0 0M1039.3 346.4a7.0 7.0 0 1 0 14.0 0a7.0 7.0 0 1 0 -14.0 0M1042.1 344.6a7.0 7.0 0 1 0 14.0 0a7.0 7.0 0 1 0 -14.0 0M1044.8 344.0a7.0 7.0 0 1 0 14.0 0a7.0 7.0 0 1 0 -14.0 0M1047.6 346.3a7.0 7.0 0 1 0 14.0 0a7.0 7.0 0 1 0 -14.0 0M1050.4 343.5a7.0 7.0 0 1 0 14.0 0a7.0 7.0 0 1 0 -14.0 0M1053.1 345.1a7.0 7.0 0 1 0 14.0 0a7.0 7.0 0 1 0 -14.0 0M1055.9 344.5a7.0 7.0 0 1 0 14.0 0a7.0 7.0 0 1 0 -14.0 0M1058.7 342.6a7.0 7.0 0 1 0 14.0 0a7.0 7.0 0 1 0 -14.0 0M1061.4 344.8a7.0 7.0 0 1 0 14.0 0a7.0 7.0 0 1 0 -14.0 0M1064.2 348.8a7.0 7.0 0 1 0 14.0 0a7.0 7.0 0 1 0 -14.0 0M1067.0 349.6a7.0 7.0 0 1 0 14.0 0a7.0 7.0 0 1 0 -14.0 0M1069.7 351.0a7.0 7.0 0 1 0 14.0 0a7.0 7.0 0 1 0 -14.0 0M1072.5 353.3a7.0 7.0 0 1 0 14.0 0a7.0 7.0 0 1 0 -14.0 0M1075.3 353.4a7.0 7.0 0 1 0 14.0 0a7.0 7.0 0 1 0 -14.0 0M1078.0 352.7a7.0 7.0 0 1 0 14.0 0a7.0 7.0 0 1 0 -14.0 0M1080.8 350.9a7.0 7.0 0 1 0 14.0 0a7.0 7.0 0 1 0 -14.0 0M1083.6 353.0a7.0 7.0 0 1 0 14.0 0a7.0 7.0 0 1 0 -14.0 0M1086.3 351.2a7.0 7.0 0 1 0 14.0 0a7.0 7.0 0 1 0 -14.0 0M1089.1 354.6a7.0 7.0 0 1 0 14.0 0a7.0 7.0 0 1 0 -14.0 0M1091.9 359.2a7.0 7.0 0 1 0 14.0 0a7.0 7.0 0 1 0 -14.0 0M1094.6 361.2a7.0 7.0 0 1 0 14.0 0a7.0 7.0 0 1 0 -14.0 0M1097.4 363.3a7.0 7.0 0 1 0 14.0 0a7.0 7.0 0 1 0 -14.0 0M1100.2 364.1a7.0 7.0 0 1 0 14.0 0a7.0 7.0 0 1 0 -14.0 0M1102.9 364.9a7.0 7.0 0 1 0 14.0 0a7.0 7.0 0 1 0 -14.0 0M1105.7 361.1a7.0 7.0 0 1 0 14.0 0a7.0 7.0 0 1 0 -14.0 0M1108.5 361.1a7.0 7.0 0 1 0 14.0 0a7.0 7.0 0 1 0 -14.0 0M1111.2 359.8a7.0 7.0 0 1 0 14.0 0a7.0 7.0 0 1 0 -14.0 0M1114.0 363.9a7.0 7.0 0 1 0 14.0 0a7.0 7.0 0 1 0 -14.0 0M1116.8 364.9a7.0 7.0 0 1 0 14.0 0a7.0 7.0 0 1 0 -14.0 0M1119.5 367.3a7.0 7.0 0 1 0 14.0 0a7.0 7.0 0 1 0 -14.0 0M1122.3 366.3a7.0 7.0 0 1 0 14.0 0a7.0 7.0 0 1 0 -14.0 0M1125.1 369.7a7.0 7.0 0 1 0 14.0 0a7.0 7.0 0 1 0 -14.0 0M1127.8 371.7a7.0 7.0 0 1 0 14.0 0a7.0 7.0 0 1 0 -14.0 0M1130.6 371.5a7.0 7.0 0 1 0 14.0 0a7.0 7.0 0 1 0 -14.0 0M1133.4 370.1a7.0 7.0 0 1 0 14.0 0a7.0 7.0 0 1 0 -14.0 0M1136.1 370.8a7.0 7.0 0 1 0 14.0 0a7.0 7.0 0 1 0 -14.0 0M1138.9 373.0a7.0 7.0 0 1 0 14.0 0a7.0 7.0 0 1 0 -14.0 0M1141.6 373.8a7.0 7.0 0 1 0 14.0 0a7.0 7.0 0 1 0 -14.0 0M1144.4 371.5a7.0 7.0 0 1 0 14.0 0a7.0 7.0 0 1 0 -14.0 0M1147.2 373.0a7.0 7.0 0 1 0 14.0 0a7.0 7.0 0 1 0 -14.0 0M1149.9 372.9a7.0 7.0 0 1 0 14.0 0a7.0 7.0 0 1 0 -14.0 0M1152.7 375.2a7.0 7.0 0 1 0 14.0 0a7.0 7.0 0 1 0 -14.0 0M1155.5 375.0a7.0 7.0 0 1 0 14.0 0a7.0 7.0 0 1 0 -14.0 0M1158.2 372.6a7.0 7.0 0 1 0 14.0 0a7.0 7.0 0 1 0 -14.0 0M1161.0 373.2a7.0 7.0 0 1 0 14.0 0a7.0 7.0 0 1 0 -14.0 0M1163.8 374.1a7.0 7.0 0 1 0 14.0 0a7.0 7.0 0 1 0 -14.0 0M1166.5 371.7a7.0 7.0 0 1 0 14.0 0a7.0 7.0 0 1 0 -14.0 0M1169.3 375.2a7.0 7.0 0 1 0 14.0 0a7.0 7.0 0 1 0 -14.0 0M1172.1 377.2a7.0 7.0 0 1 0 14.0 0a7.0 7.0 0 1 0 -14.0 0M1174.8 382.2a7.0 7.0 0 1 0 14.0 0a7.0 7.0 0 1 0 -14.0 0M1177.6 382.1a7.0 7.0 0 1 0 14.0 0a7.0 7.0 0 1 0 -14.0 0M1180.4 387.4a7.0 7.0 0 1 0 14.0 0a7.0 7.0 0 1 0 -14.0 0M1183.1 387.4a7.0 7.0 0 1 0 14.0 0a7.0 7.0 0 1 0 -14.0 0M1185.9 391.6a7.0 7.0 0 1 0 14.0 0a7.0 7.0 0 1 0 -14.0 0M1188.7 394.7a7.0 7.0 0 1 0 14.0 0a7.0 7.0 0 1 0 -14.0 0M1191.4 394.2a7.0 7.0 0 1 0 14.0 0a7.0 7.0 0 1 0 -14.0 0M1194.2 392.0a7.0 7.0 0 1 0 14.0 0a7.0 7.0 0 1 0 -14.0 0M1197.0 393.3a7.0 7.0 0 1 0 14.0 0a7.0 7.0 0 1 0 -14.0 0M1199.7 392.9a7.0 7.0 0 1 0 14.0 0a7.0 7.0 0 1 0 -14.0 0M1202.5 398.6a7.0 7.0 0 1 0 14.0 0a7.0 7.0 0 1 0 -14.0 0M1205.3 406.7a7.0 7.0 0 1 0 14.0 0a7.0 7.0 0 1 0 -14.0 0M1208.0 409.9a7.0 7.0 0 1 0 14.0 0a7.0 7.0 0 1 0 -14.0 0M1210.8 409.8a7.0 7.0 0 1 0 14.0 0a7.0 7.0 0 1 0 -14.0 0M1213.6 410.1a7.0 7.0 0 1 0 14.0 0a7.0 7.0 0 1 0 -14.0 0M1216.3 407.2a7.0 7.0 0 1 0 14.0 0a7.0 7.0 0 1 0 -14.0 0M1219.1 401.8a7.0 7.0 0 1 0 14.0 0a7.0 7.0 0 1 0 -14.0 0M1221.9 396.9a7.0 7.0 0 1 0 14.0 0a7.0 7.0 0 1 0 -14.0 0M1224.6 393.2a7.0 7.0 0 1 0 14.0 0a7.0 7.0 0 1 0 -14.0 0M1227.4 396.7a7.0 7.0 0 1 0 14.0 0a7.0 7.0 0 1 0 -14.0 0M1230.2 397.8a7.0 7.0 0 1 0 14.0 0a7.0 7.0 0 1 0 -14.0 0M1232.9 400.8a7.0 7.0 0 1 0 14.0 0a7.0 7.0 0 1 0 -14.0 0M1235.7 405.9a7.0 7.0 0 1 0 14.0 0a7.0 7.0 0 1 0 -14.0 0M1238.5 413.7a7.0 7.0 0 1 0 14.0 0a7.0 7.0 0 1 0 -14.0 0M1241.2 426.5a7.0 7.0 0 1 0 14.0 0a7.0 7.0 0 1 0 -14.0 0M1244.0 430.4a7.0 7.0 0 1 0 14.0 0a7.0 7.0 0 1 0 -14.0 0M1246.8 431.1a7.0 7.0 0 1 0 14.0 0a7.0 7.0 0 1 0 -14.0 0M1249.5 433.3a7.0 7.0 0 1 0 14.0 0a7.0 7.0 0 1 0 -14.0 0M1252.3 435.9a7.0 7.0 0 1 0 14.0 0a7.0 7.0 0 1 0 -14.0 0M1255.0 436.3a7.0 7.0 0 1 0 14.0 0a7.0 7.0 0 1 0 -14.0 0M1257.8 436.0a7.0 7.0 0 1 0 14.0 0a7.0 7.0 0 1 0 -14.0 0M1260.6 439.9a7.0 7.0 0 1 0 14.0 0a7.0 7.0 0 1 0 -14.0 0M1263.3 438.5a7.0 7.0 0 1 0 14.0 0a7.0 7.0 0 1 0 -14.0 0M1266.1 440.9a7.0 7.0 0 1 0 14.0 0a7.0 7.0 0 1 0 -14.0 0M1268.9 441.7a7.0 7.0 0 1 0 14.0 0a7.0 7.0 0 1 0 -14.0 0M1271.6 442.1a7.0 7.0 0 1 0 14.0 0a7.0 7.0 0 1 0 -14.0 0M1274.4 446.4a7.0 7.0 0 1 0 14.0 0a7.0 7.0 0 1 0 -14.0 0M1277.2 463.1a7.0 7.0 0 1 0 14.0 0a7.0 7.0 0 1 0 -14.0 0M1279.9 486.0a7.0 7.0 0 1 0 14.0 0a7.0 7.0 0 1 0 -14.0 0M1282.7 485.6a7.0 7.0 0 1 0 14.0 0a7.0 7.0 0 1 0 -14.0 0M1285.5 488.4a7.0 7.0 0 1 0 14.0 0a7.0 7.0 0 1 0 -14.0 0M1288.2 487.3a7.0 7.0 0 1 0 14.0 0a7.0 7.0 0 1 0 -14.0 0M1291.0 488.3a7.0 7.0 0 1 0 14.0 0a7.0 7.0 0 1 0 -14.0 0M1293.8 490.2a7.0 7.0 0 1 0 14.0 0a7.0 7.0 0 1 0 -14.0 0M1296.5 492.5a7.0 7.0 0 1 0 14.0 0a7.0 7.0 0 1 0 -14.0 0M1299.3 494.3a7.0 7.0 0 1 0 14.0 0a7.0 7.0 0 1 0 -14.0 0M1302.1 496.8a7.0 7.0 0 1 0 14.0 0a7.0 7.0 0 1 0 -14.0 0M1304.8 498.2a7.0 7.0 0 1 0 14.0 0a7.0 7.0 0 1 0 -14.0 0M1307.6 499.9a7.0 7.0 0 1 0 14.0 0a7.0 7.0 0 1 0 -14.0 0M1310.4 499.1a7.0 7.0 0 1 0 14.0 0a7.0 7.0 0 1 0 -14.0 0M1313.1 502.2a7.0 7.0 0 1 0 14.0 0a7.0 7.0 0 1 0 -14.0 0M1315.9 504.0a7.0 7.0 0 1 0 14.0 0a7.0 7.0 0 1 0 -14.0 0M1318.7 500.3a7.0 7.0 0 1 0 14.0 0a7.0 7.0 0 1 0 -14.0 0M1321.4 504.0a7.0 7.0 0 1 0 14.0 0a7.0 7.0 0 1 0 -14.0 0M1324.2 511.1a7.0 7.0 0 1 0 14.0 0a7.0 7.0 0 1 0 -14.0 0M1327.0 509.6a7.0 7.0 0 1 0 14.0 0a7.0 7.0 0 1 0 -14.0 0M1329.7 509.0a7.0 7.0 0 1 0 14.0 0a7.0 7.0 0 1 0 -14.0 0M1332.5 501.3a7.0 7.0 0 1 0 14.0 0a7.0 7.0 0 1 0 -14.0 0M1335.3 506.0a7.0 7.0 0 1 0 14.0 0a7.0 7.0 0 1 0 -14.0 0M1338.0 498.9a7.0 7.0 0 1 0 14.0 0a7.0 7.0 0 1 0 -14.0 0M1340.8 505.4a7.0 7.0 0 1 0 14.0 0a7.0 7.0 0 1 0 -14.0 0M1343.6 503.5a7.0 7.0 0 1 0 14.0 0a7.0 7.0 0 1 0 -14.0 0M1346.3 503.8a7.0 7.0 0 1 0 14.0 0a7.0 7.0 0 1 0 -14.0 0M1349.1 513.9a7.0 7.0 0 1 0 14.0 0a7.0 7.0 0 1 0 -14.0 0M1351.9 520.8a7.0 7.0 0 1 0 14.0 0a7.0 7.0 0 1 0 -14.0 0M1354.6 522.6a7.0 7.0 0 1 0 14.0 0a7.0 7.0 0 1 0 -14.0 0M1357.4 530.1a7.0 7.0 0 1 0 14.0 0a7.0 7.0 0 1 0 -14.0 0M1360.2 529.7a7.0 7.0 0 1 0 14.0 0a7.0 7.0 0 1 0 -14.0 0M1362.9 527.6a7.0 7.0 0 1 0 14.0 0a7.0 7.0 0 1 0 -14.0 0M1365.7 531.6a7.0 7.0 0 1 0 14.0 0a7.0 7.0 0 1 0 -14.0 0M1368.4 535.6a7.0 7.0 0 1 0 14.0 0a7.0 7.0 0 1 0 -14.0 0M1371.2 540.7a7.0 7.0 0 1 0 14.0 0a7.0 7.0 0 1 0 -14.0 0M1374.0 545.2a7.0 7.0 0 1 0 14.0 0a7.0 7.0 0 1 0 -14.0 0M1376.7 485.3a7.0 7.0 0 1 0 14.0 0a7.0 7.0 0 1 0 -14.0 0M1379.5 487.0a7.0 7.0 0 1 0 14.0 0a7.0 7.0 0 1 0 -14.0 0M1382.3 487.2a7.0 7.0 0 1 0 14.0 0a7.0 7.0 0 1 0 -14.0 0M1385.0 485.0a7.0 7.0 0 1 0 14.0 0a7.0 7.0 0 1 0 -14.0 0M1387.8 487.8a7.0 7.0 0 1 0 14.0 0a7.0 7.0 0 1 0 -14.0 0M1390.6 504.6a7.0 7.0 0 1 0 14.0 0a7.0 7.0 0 1 0 -14.0 0M1393.3 513.2a7.0 7.0 0 1 0 14.0 0a7.0 7.0 0 1 0 -14.0 0M1396.1 519.5a7.0 7.0 0 1 0 14.0 0a7.0 7.0 0 1 0 -14.0 0M1398.9 518.5a7.0 7.0 0 1 0 14.0 0a7.0 7.0 0 1 0 -14.0 0M1401.6 519.9a7.0 7.0 0 1 0 14.0 0a7.0 7.0 0 1 0 -14.0 0M1404.4 469.4a7.0 7.0 0 1 0 14.0 0a7.0 7.0 0 1 0 -14.0 0M1407.2 464.3a7.0 7.0 0 1 0 14.0 0a7.0 7.0 0 1 0 -14.0 0M1409.9 470.5a7.0 7.0 0 1 0 14.0 0a7.0 7.0 0 1 0 -14.0 0M1412.7 477.8a7.0 7.0 0 1 0 14.0 0a7.0 7.0 0 1 0 -14.0 0M1415.5 480.1a7.0 7.0 0 1 0 14.0 0a7.0 7.0 0 1 0 -14.0 0M1418.2 483.9a7.0 7.0 0 1 0 14.0 0a7.0 7.0 0 1 0 -14.0 0M1421.0 486.4a7.0 7.0 0 1 0 14.0 0a7.0 7.0 0 1 0 -14.0 0M1423.8 490.2a7.0 7.0 0 1 0 14.0 0a7.0 7.0 0 1 0 -14.0 0M1426.5 493.8a7.0 7.0 0 1 0 14.0 0a7.0 7.0 0 1 0 -14.0 0M1429.3 498.3a7.0 7.0 0 1 0 14.0 0a7.0 7.0 0 1 0 -14.0 0M1432.1 501.0a7.0 7.0 0 1 0 14.0 0a7.0 7.0 0 1 0 -14.0 0M1434.8 506.0a7.0 7.0 0 1 0 14.0 0a7.0 7.0 0 1 0 -14.0 0M1437.6 510.3a7.0 7.0 0 1 0 14.0 0a7.0 7.0 0 1 0 -14.0 0M1440.4 516.2a7.0 7.0 0 1 0 14.0 0a7.0 7.0 0 1 0 -14.0 0M1443.1 520.7a7.0 7.0 0 1 0 14.0 0a7.0 7.0 0 1 0 -14.0 0M1445.9 523.3a7.0 7.0 0 1 0 14.0 0a7.0 7.0 0 1 0 -14.0 0M1448.7 528.1a7.0 7.0 0 1 0 14.0 0a7.0 7.0 0 1 0 -14.0 0M1451.4 522.6a7.0 7.0 0 1 0 14.0 0a7.0 7.0 0 1 0 -14.0 0M1454.2 521.6a7.0 7.0 0 1 0 14.0 0a7.0 7.0 0 1 0 -14.0 0M1457.0 521.4a7.0 7.0 0 1 0 14.0 0a7.0 7.0 0 1 0 -14.0 0M1459.7 515.7a7.0 7.0 0 1 0 14.0 0a7.0 7.0 0 1 0 -14.0 0M1462.5 517.4a7.0 7.0 0 1 0 14.0 0a7.0 7.0 0 1 0 -14.0 0M1465.3 534.5a7.0 7.0 0 1 0 14.0 0a7.0 7.0 0 1 0 -14.0 0M1468.0 531.1a7.0 7.0 0 1 0 14.0 0a7.0 7.0 0 1 0 -14.0 0M1470.8 536.7a7.0 7.0 0 1 0 14.0 0a7.0 7.0 0 1 0 -14.0 0M1473.5 537.5a7.0 7.0 0 1 0 14.0 0a7.0 7.0 0 1 0 -14.0 0M1476.3 542.2a7.0 7.0 0 1 0 14.0 0a7.0 7.0 0 1 0 -14.0 0M1479.1 550.3a7.0 7.0 0 1 0 14.0 0a7.0 7.0 0 1 0 -14.0 0M1481.8 551.7a7.0 7.0 0 1 0 14.0 0a7.0 7.0 0 1 0 -14.0 0M1484.6 554.0a7.0 7.0 0 1 0 14.0 0a7.0 7.0 0 1 0 -14.0 0M1487.4 558.8a7.0 7.0 0 1 0 14.0 0a7.0 7.0 0 1 0 -14.0 0M1490.1 560.8a7.0 7.0 0 1 0 14.0 0a7.0 7.0 0 1 0 -14.0 0M1492.9 558.6a7.0 7.0 0 1 0 14.0 0a7.0 7.0 0 1 0 -14.0 0M1496.2 558.5a7.0 7.0 0 1 0 14.0 0a7.0 7.0 0 1 0 -14.0 0M1499.5 567.1a7.0 7.0 0 1 0 14.0 0a7.0 7.0 0 1 0 -14.0 0M1502.3 582.4a7.0 7.0 0 1 0 14.0 0a7.0 7.0 0 1 0 -14.0 0M1505.6 596.0a7.0 7.0 0 1 0 14.0 0a7.0 7.0 0 1 0 -14.0 0M1507.6 593.3a7.0 7.0 0 1 0 14.0 0a7.0 7.0 0 1 0 -14.0 0M1510.1 600.8a7.0 7.0 0 1 0 14.0 0a7.0 7.0 0 1 0 -14.0 0M1513.1 597.7a7.0 7.0 0 1 0 14.0 0a7.0 7.0 0 1 0 -14.0 0M1516.7 612.7a7.0 7.0 0 1 0 14.0 0a7.0 7.0 0 1 0 -14.0 0M1519.2 573.1a7.0 7.0 0 1 0 14.0 0a7.0 7.0 0 1 0 -14.0 0M1522.2 604.5a7.0 7.0 0 1 0 14.0 0a7.0 7.0 0 1 0 -14.0 0M1526.7 597.7a7.0 7.0 0 1 0 14.0 0a7.0 7.0 0 1 0 -14.0 0M1530.0 595.0a7.0 7.0 0 1 0 14.0 0a7.0 7.0 0 1 0 -14.0 0M1532.5 606.9a7.0 7.0 0 1 0 14.0 0a7.0 7.0 0 1 0 -14.0 0M1535.2 612.7a7.0 7.0 0 1 0 14.0 0a7.0 7.0 0 1 0 -14.0 0M1537.7 628.8a7.0 7.0 0 1 0 14.0 0a7.0 7.0 0 1 0 -14.0 0M1540.8 632.4a7.0 7.0 0 1 0 14.0 0a7.0 7.0 0 1 0 -14.0 0M1543.8 634.9a7.0 7.0 0 1 0 14.0 0a7.0 7.0 0 1 0 -14.0 0M1547.1 626.3a7.0 7.0 0 1 0 14.0 0a7.0 7.0 0 1 0 -14.0 0M1550.4 628.0a7.0 7.0 0 1 0 14.0 0a7.0 7.0 0 1 0 -14.0 0M1552.9 642.1a7.0 7.0 0 1 0 14.0 0a7.0 7.0 0 1 0 -14.0 0M1555.4 653.3a7.0 7.0 0 1 0 14.0 0a7.0 7.0 0 1 0 -14.0 0M1559.0 655.0a7.0 7.0 0 1 0 14.0 0a7.0 7.0 0 1 0 -14.0 0M1562.1 645.8a7.0 7.0 0 1 0 14.0 0a7.0 7.0 0 1 0 -14.0 0M1565.7 638.3a7.0 7.0 0 1 0 14.0 0a7.0 7.0 0 1 0 -14.0 0M1569.0 644.6a7.0 7.0 0 1 0 14.0 0a7.0 7.0 0 1 0 -14.0 0M1572.6 655.0a7.0 7.0 0 1 0 14.0 0a7.0 7.0 0 1 0 -14.0 0M1574.2 616.1a7.0 7.0 0 1 0 14.0 0a7.0 7.0 0 1 0 -14.0 0M1577.5 629.7a7.0 7.0 0 1 0 14.0 0a7.0 7.0 0 1 0 -14.0 0M1580.6 638.5a7.0 7.0 0 1 0 14.0 0a7.0 7.0 0 1 0 -14.0 0M1584.2 646.8a7.0 7.0 0 1 0 14.0 0a7.0 7.0 0 1 0 -14.0 0M1587.5 650.6a7.0 7.0 0 1 0 14.0 0a7.0 7.0 0 1 0 -14.0 0M1591.1 655.0a7.0 7.0 0 1 0 14.0 0a7.0 7.0 0 1 0 -14.0 0M1596.1 665.2a7.0 7.0 0 1 0 14.0 0a7.0 7.0 0 1 0 -14.0 0M1598.0 661.8a7.0 7.0 0 1 0 14.0 0a7.0 7.0 0 1 0 -14.0 0M1603.0 658.4a7.0 7.0 0 1 0 14.0 0a7.0 7.0 0 1 0 -14.0 0M1608.0 680.5a7.0 7.0 0 1 0 14.0 0a7.0 7.0 0 1 0 -14.0 0M1611.3 683.9a7.0 7.0 0 1 0 14.0 0a7.0 7.0 0 1 0 -14.0 0M1615.7 700.0a7.0 7.0 0 1 0 14.0 0a7.0 7.0 0 1 0 -14.0 0M1621.5 719.4a7.0 7.0 0 1 0 14.0 0a7.0 7.0 0 1 0 -14.0 0M1624.0 732.0a7.0 7.0 0 1 0 14.0 0a7.0 7.0 0 1 0 -14.0 0M1628.4 709.2a7.0 7.0 0 1 0 14.0 0a7.0 7.0 0 1 0 -14.0 0M1628.4 739.8a7.0 7.0 0 1 0 14.0 0a7.0 7.0 0 1 0 -14.0 0M1633.4 714.3a7.0 7.0 0 1 0 14.0 0a7.0 7.0 0 1 0 -14.0 0M1635.1 727.9a7.0 7.0 0 1 0 14.0 0a7.0 7.0 0 1 0 -14.0 0M1640.3 738.1a7.0 7.0 0 1 0 14.0 0a7.0 7.0 0 1 0 -14.0 0M1637.6 733.3a7.0 7.0 0 1 0 14.0 0a7.0 7.0 0 1 0 -14.0 0M1644.5 741.8a7.0 7.0 0 1 0 14.0 0a7.0 7.0 0 1 0 -14.0 0M1648.6 743.2a7.0 7.0 0 1 0 14.0 0a7.0 7.0 0 1 0 -14.0 0M1651.9 746.6a7.0 7.0 0 1 0 14.0 0a7.0 7.0 0 1 0 -14.0 0M1657.5 750.5a7.0 7.0 0 1 0 14.0 0a7.0 7.0 0 1 0 -14.0 0M1654.2 770.9a7.0 7.0 0 1 0 14.0 0a7.0 7.0 0 1 0 -14.0 0M1661.1 760.0a7.0 7.0 0 1 0 14.0 0a7.0 7.0 0 1 0 -14.0 0M1664.4 767.5a7.0 7.0 0 1 0 14.0 0a7.0 7.0 0 1 0 -14.0 0M1667.7 769.7a7.0 7.0 0 1 0 14.0 0a7.0 7.0 0 1 0 -14.0 0M1671.0 770.9a7.0 7.0 0 1 0 14.0 0a7.0 7.0 0 1 0 -14.0 0M1672.7 794.5a7.0 7.0 0 1 0 14.0 0a7.0 7.0 0 1 0 -14.0 0M1673.2 808.1a7.0 7.0 0 1 0 14.0 0a7.0 7.0 0 1 0 -14.0 0M1676.3 828.5a7.0 7.0 0 1 0 14.0 0a7.0 7.0 0 1 0 -14.0 0M1679.6 843.6a7.0 7.0 0 1 0 14.0 0a7.0 7.0 0 1 0 -14.0 0M1682.9 830.2a7.0 7.0 0 1 0 14.0 0a7.0 7.0 0 1 0 -14.0 0M1684.6 759.0a7.0 7.0 0 1 0 14.0 0a7.0 7.0 0 1 0 -14.0 0M1688.2 765.8a7.0 7.0 0 1 0 14.0 0a7.0 7.0 0 1 0 -14.0 0M1691.5 784.5a7.0 7.0 0 1 0 14.0 0a7.0 7.0 0 1 0 -14.0 0M1694.3 786.7a7.0 7.0 0 1 0 14.0 0a7.0 7.0 0 1 0 -14.0 0M1697.6 791.6a7.0 7.0 0 1 0 14.0 0a7.0 7.0 0 1 0 -14.0 0M1701.7 794.5a7.0 7.0 0 1 0 14.0 0a7.0 7.0 0 1 0 -14.0 0M1705.0 796.2a7.0 7.0 0 1 0 14.0 0a7.0 7.0 0 1 0 -14.0 0M1707.5 814.9a7.0 7.0 0 1 0 14.0 0a7.0 7.0 0 1 0 -14.0 0M1710.0 841.2a7.0 7.0 0 1 0 14.0 0a7.0 7.0 0 1 0 -14.0 0M1713.3 769.2a7.0 7.0 0 1 0 14.0 0a7.0 7.0 0 1 0 -14.0 0M1715.6 650.2a7.0 7.0 0 1 0 14.0 0a7.0 7.0 0 1 0 -14.0 0M1718.0 710.9a7.0 7.0 0 1 0 14.0 0a7.0 7.0 0 1 0 -14.0 0M1720.8 724.8a7.0 7.0 0 1 0 14.0 0a7.0 7.0 0 1 0 -14.0 0M1723.6 739.6a7.0 7.0 0 1 0 14.0 0a7.0 7.0 0 1 0 -14.0 0M1726.1 753.9a7.0 7.0 0 1 0 14.0 0a7.0 7.0 0 1 0 -14.0 0M1728.0 750.0a7.0 7.0 0 1 0 14.0 0a7.0 7.0 0 1 0 -14.0 0M1729.7 769.2a7.0 7.0 0 1 0 14.0 0a7.0 7.0 0 1 0 -14.0 0M1732.2 779.4a7.0 7.0 0 1 0 14.0 0a7.0 7.0 0 1 0 -14.0 0M1734.1 790.4a7.0 7.0 0 1 0 14.0 0a7.0 7.0 0 1 0 -14.0 0M1735.5 808.1a7.0 7.0 0 1 0 14.0 0a7.0 7.0 0 1 0 -14.0 0M1739.6 823.4a7.0 7.0 0 1 0 14.0 0a7.0 7.0 0 1 0 -14.0 0M1742.9 750.5a7.0 7.0 0 1 0 14.0 0a7.0 7.0 0 1 0 -14.0 0M1745.7 786.2a7.0 7.0 0 1 0 14.0 0a7.0 7.0 0 1 0 -14.0 0M1749.9 811.5a7.0 7.0 0 1 0 14.0 0a7.0 7.0 0 1 0 -14.0 0M1751.5 836.1a7.0 7.0 0 1 0 14.0 0a7.0 7.0 0 1 0 -14.0 0M1754.0 850.4a7.0 7.0 0 1 0 14.0 0a7.0 7.0 0 1 0 -14.0 0M1759.3 860.6a7.0 7.0 0 1 0 14.0 0a7.0 7.0 0 1 0 -14.0 0M1759.5 872.5a7.0 7.0 0 1 0 14.0 0a7.0 7.0 0 1 0 -14.0 0M1762.6 887.8a7.0 7.0 0 1 0 14.0 0a7.0 7.0 0 1 0 -14.0 0M1765.3 904.3a7.0 7.0 0 1 0 14.0 0a7.0 7.0 0 1 0 -14.0 0M1767.8 912.4a7.0 7.0 0 1 0 14.0 0a7.0 7.0 0 1 0 -14.0 0M1770.9 871.5a7.0 7.0 0 1 0 14.0 0a7.0 7.0 0 1 0 -14.0 0M1774.5 896.1a7.0 7.0 0 1 0 14.0 0a7.0 7.0 0 1 0 -14.0 0M1773.9 919.4a7.0 7.0 0 1 0 14.0 0a7.0 7.0 0 1 0 -14.0 0M1776.4 925.5a7.0 7.0 0 1 0 14.0 0a7.0 7.0 0 1 0 -14.0 0M1778.6 939.3a7.0 7.0 0 1 0 14.0 0a7.0 7.0 0 1 0 -14.0 0M1781.7 948.8a7.0 7.0 0 1 0 14.0 0a7.0 7.0 0 1 0 -14.0 0M1785.0 954.2a7.0 7.0 0 1 0 14.0 0a7.0 7.0 0 1 0 -14.0 0M1787.5 960.5a7.0 7.0 0 1 0 14.0 0a7.0 7.0 0 1 0 -14.0 0M1790.2 966.8a7.0 7.0 0 1 0 14.0 0a7.0 7.0 0 1 0 -14.0 0M1793.0 982.1a7.0 7.0 0 1 0 14.0 0a7.0 7.0 0 1 0 -14.0 0M1796.0 992.8a7.0 7.0 0 1 0 14.0 0a7.0 7.0 0 1 0 -14.0 0M1799.9 940.3a7.0 7.0 0 1 0 14.0 0a7.0 7.0 0 1 0 -14.0 0M1801.9 961.4a7.0 7.0 0 1 0 14.0 0a7.0 7.0 0 1 0 -14.0 0" stroke="#ff0000" stroke-width="2" fill="none" shape-rendering="crispEdges"/>
<path d="M199.8 196.0h17.0M208.3 187.5v17.0M203.3 191.0l10.0 10.0M203.3 201.0l10.0 -10.0M202.5 196.0h17.0M211.0 187.5v17.0M206.0 191.0l10.0 10.0M206.0 201.0l10.0 -10.0M205.3 196.0h17.0M213.8 187.5v17.0M208.8 191.0l10.0 10.0M208.8 201.0l10.0 -10.0M208.1 174.9h17.0M216.6 166.4v17.0M211.6 169.9l10.0 10.0M211.6 179.9l10.0 -10.0M210.8 196.0h17.0M219.3 187.5v17.0M214.3 191.0l10.0 10.0M214.3 201.0l10.0 -10.0M213.6 196.0h17.0M222.1 187.5v17.0M217.1 191.0l10.0 10.0M217.1 201.0l10.0 -10.0M216.4 196.0h17.0M224.9 187.5v17.0M219.9 191.0l10.0 10.0M219.9 201.0l10.0 -10.0M219.1 159.5h17.0M227.6 151.0v17.0M222.6 154.5l10.0 10.0M222.6 164.5l10.0 -10.0M221.9 182.4h17.0M230.4 173.9v17.0M225.4 177.4l10.0 10.0M225.4 187.4l10.0 -10.0M224.7 196.0h17.0M233.2 187.5v17.0M228.2 191.0l10.0 10.0M228.2 201.0l10.0 -10.0M227.4 170.7h17.0M235.9 162.2v17.0M230.9 165.7l10.0 10.0M230.9 175.7l10.0 -10.0M230.2 193.3h17.0M238.7 184.8v17.0M233.7 188.3l10.0 10.0M233.7 198.3l10.0 -10.0M233.0 163.9h17.0M241.5 155.4v17.0M236.5 158.9l10.0 10.0M236.5 168.9l10.0 -10.0M235.7 163.6h17.0M244.2 155.1v17.0M239.2 158.6l10.0 10.0M239.2 168.6l10.0 -10.0M238.5 183.4h17.0M247.0 174.9v17.0M242.0 178.4l10.0 10.0M242.0 188.4l10.0 -10.0M241.3 164.1h17.0M249.8 155.6v17.0M244.8 159.1l10.0 10.0M244.8 169.1l10.0 -10.0M244.0 166.3h17.0M252.5 157.8v17.0M247.5 161.3l10.0 10.0M247.5 171.3l10.0 -10.0M246.8 166.0h17.0M255.3 157.5v17.0M250.3 161.0l10.0 10.0M250.3 171.0l10.0 -10.0M249.6 141.8h17.0M258.1 133.3v17.0M253.1 136.8l10.0 10.0M253.1 146.8l10.0 -10.0M252.3 163.7h17.0M260.8 155.2v17.0M255.8 158.7l10.0 10.0M255.8 168.7l10.0 -10.0M255.1 165.4h17.0M263.6 156.9v17.0M258.6 160.4l10.0 10.0M258.6 170.4l10.0 -10.0M257.8 160.3h17.0M266.3 151.8v17.0M261.3 155.3l10.0 10.0M261.3 165.3l10.0 -10.0M260.6 166.5h17.0M269.1 158.0v17.0M264.1 161.5l10.0 10.0M264.1 171.5l10.0 -10.0M263.4 166.4h17.0M271.9 157.9v17.0M266.9 161.4l10.0 10.0M266.9 171.4l10.0 -10.0M266.1 165.5h17.0M274.6 157.0v17.0M269.6 160.5l10.0 10.0M269.6 170.5l10.0 -10.0M268.9 159.8h17.0M277.4 151.3v17.0M272.4 154.8l10.0 10.0M272.4 164.8l10.0 -10.0M271.7 163.9h17.0M280.2 155.4v17.0M275.2 158.9l10.0 10.0M275.2 168.9l10.0 -10.0M274.4 164.0h17.0M282.9 155.5v17.0M277.9 159.0l10.0 10.0M277.9 169.0l10.0 -10.0M277.2 183.4h17.0M285.7 174.9v17.0M280.7 178.4l10.0 10.0M280.7 188.4l10.0 -10.0M280.0 164.6h17.0M288.5 156.1v17.0M283.5 159.6l10.0 10.0M283.5 169.6l10.0 -10.0M282.7 164.8h17.0M291.2 156.3v17.0M286.2 159.8l10.0 10.0M286.2 169.8l10.0 -10.0M285.5 164.8h17.0M294.0 156.3v17.0M289.0 159.8l10.0 10.0M289.0 169.8l10.0 -10.0M288.3 159.5h17.0M296.8 151.0v17.0M291.8 154.5l10.0 10.0M291.8 164.5l10.0 -10.0M291.0 163.1h17.0M299.5 154.6v17.0M294.5 158.1l10.0 10.0M294.5 168.1l10.0 -10.0M293.8 161.0h17.0M302.3 152.5v17.0M297.3 156.0l10.0 10.0M297.3 166.0l10.0 -10.0M296.6 164.6h17.0M305.1 156.1v17.0M300.1 159.6l10.0 10.0M300.1 169.6l10.0 -10.0M299.3 165.9h17.0M307.8 157.4v17.0M302.8 160.9l10.0 10.0M302.8 170.9l10.0 -10.0M302.1 197.8h17.0M310.6 189.3v17.0M305.6 192.8l10.0 10.0M305.6 202.8l10.0 -10.0M304.9 174.9h17.0M313.4 166.4v17.0M308.4 169.9l10.0 10.0M308.4 179.9l10.0 -10.0M307.6 197.0h17.0M316.1 188.5v17.0M311.1 192.0l10.0 10.0M311.1 202.0l10.0 -10.0M310.4 197.8h17.0M318.9 189.3v17.0M313.9 192.8l10.0 10.0M313.9 202.8l10.0 -10.0M313.2 198.0h17.0M321.7 189.5v17.0M316.7 193.0l10.0 10.0M316.7 203.0l10.0 -10.0M315.9 198.1h17.0M324.4 189.6v17.0M319.4 193.1l10.0 10.0M319.4 203.1l10.0 -10.0M318.7 197.0h17.0M327.2 188.5v17.0M322.2 192.0l10.0 10.0M322.2 202.0l10.0 -10.0M321.5 212.0h17.0M330.0 203.5v17.0M325.0 207.0l10.0 10.0M325.0 217.0l10.0 -10.0M324.2 167.1h17.0M332.7 158.6v17.0M327.7 162.1l10.0 10.0M327.7 172.1l10.0 -10.0M327.0 198.2h17.0M335.5 189.7v17.0M330.5 193.2l10.0 10.0M330.5 203.2l10.0 -10.0M329.8 197.7h17.0M338.3 189.2v17.0M333.3 192.7l10.0 10.0M333.3 202.7l10.0 -10.0M332.5 197.0h17.0M341.0 188.5v17.0M336.0 192.0l10.0 10.0M336.0 202.0l10.0 -10.0M335.3 198.2h17.0M343.8 189.7v17.0M338.8 193.2l10.0 10.0M338.8 203.2l10.0 -10.0M338.1 167.1h17.0M346.6 158.6v17.0M341.6 162.1l10.0 10.0M341.6 172.1l10.0 -10.0M340.8 165.9h17.0M349.3 157.4v17.0M344.3 160.9l10.0 10.0M344.3 170.9l10.0 -10.0M343.6 183.4h17.0M352.1 174.9v17.0M347.1 178.4l10.0 10.0M347.1 188.4l10.0 -10.0M346.4 163.4h17.0M354.9 154.9v17.0M349.9 158.4l10.0 10.0M349.9 168.4l10.0 -10.0M349.1 196.7h17.0M357.6 188.2v17.0M352.6 191.7l10.0 10.0M352.6 201.7l10.0 -10.0M351.9 158.6h17.0M360.4 150.1v17.0M355.4 153.6l10.0 10.0M355.4 163.6l10.0 -10.0M354.7 212.0h17.0M363.2 203.5v17.0M358.2 207.0l10.0 10.0M358.2 217.0l10.0 -10.0M357.4 162.2h17.0M365.9 153.7v17.0M360.9 157.2l10.0 10.0M360.9 167.2l10.0 -10.0M360.2 193.3h17.0M368.7 184.8v17.0M363.7 188.3l10.0 10.0M363.7 198.3l10.0 -10.0M362.9 163.4h17.0M371.4 154.9v17.0M366.4 158.4l10.0 10.0M366.4 168.4l10.0 -10.0M365.7 164.6h17.0M374.2 156.1v17.0M369.2 159.6l10.0 10.0M369.2 169.6l10.0 -10.0M368.5 163.1h17.0M377.0 154.6v17.0M372.0 158.1l10.0 10.0M372.0 168.1l10.0 -10.0M371.2 163.9h17.0M379.7 155.4v17.0M374.7 158.9l10.0 10.0M374.7 168.9l10.0 -10.0M374.0 165.7h17.0M382.5 157.2v17.0M377.5 160.7l10.0 10.0M377.5 170.7l10.0 -10.0M376.8 163.1h17.0M385.3 154.6v17.0M380.3 158.1l10.0 10.0M380.3 168.1l10.0 -10.0M379.5 164.7h17.0M388.0 156.2v17.0M383.0 159.7l10.0 10.0M383.0 169.7l10.0 -10.0M382.3 166.5h17.0M390.8 158.0v17.0M385.8 161.5l10.0 10.0M385.8 171.5l10.0 -10.0M385.1 166.6h17.0M393.6 158.1v17.0M388.6 161.6l10.0 10.0M388.6 171.6l10.0 -10.0M387.8 159.8h17.0M396.3 151.3v17.0M391.3 154.8l10.0 10.0M391.3 164.8l10.0 -10.0M390.6 158.6h17.0M399.1 150.1v17.0M394.1 153.6l10.0 10.0M394.1 163.6l10.0 -10.0M393.4 165.4h17.0M401.9 156.9v17.0M396.9 160.4l10.0 10.0M396.9 170.4l10.0 -10.0M396.1 197.2h17.0M404.6 188.7v17.0M399.6 192.2l10.0 10.0M399.6 202.2l10.0 -10.0M398.9 165.9h17.0M407.4 157.4v17.0M402.4 160.9l10.0 10.0M402.4 170.9l10.0 -10.0M401.7 167.1h17.0M410.2 158.6v17.0M405.2 162.1l10.0 10.0M405.2 172.1l10.0 -10.0M404.4 168.3h17.0M412.9 159.8v17.0M407.9 163.3l10.0 10.0M407.9 173.3l10.0 -10.0M407.2 197.4h17.0M415.7 188.9v17.0M410.7 192.4l10.0 10.0M410.7 202.4l10.0 -10.0M410.0 196.4h17.0M418.5 187.9v17.0M413.5 191.4l10.0 10.0M413.5 201.4l10.0 -10.0M412.7 196.2h17.0M421.2 187.7v17.0M416.2 191.2l10.0 10.0M416.2 201.2l10.0 -10.0M415.5 197.3h17.0M424.0 188.8v17.0M419.0 192.3l10.0 10.0M419.0 202.3l10.0 -10.0M418.3 196.1h17.0M426.8 187.6v17.0M421.8 191.1l10.0 10.0M421.8 201.1l10.0 -10.0M421.0 196.4h17.0M429.5 187.9v17.0M424.5 191.4l10.0 10.0M424.5 201.4l10.0 -10.0M423.8 217.1h17.0M432.3 208.6v17.0M427.3 212.1l10.0 10.0M427.3 222.1l10.0 -10.0M426.6 197.0h17.0M435.1 188.5v17.0M430.1 192.0l10.0 10.0M430.1 202.0l10.0 -10.0M429.3 196.9h17.0M437.8 188.4v17.0M432.8 191.9l10.0 10.0M432.8 201.9l10.0 -10.0M432.1 196.9h17.0M440.6 188.4v17.0M435.6 191.9l10.0 10.0M435.6 201.9l10.0 -10.0M434.9 196.0h17.0M443.4 187.5v17.0M438.4 191.0l10.0 10.0M438.4 201.0l10.0 -10.0M437.6 217.1h17.0M446.1 208.6v17.0M441.1 212.1l10.0 10.0M441.1 222.1l10.0 -10.0M440.4 196.9h17.0M448.9 188.4v17.0M443.9 191.9l10.0 10.0M443.9 201.9l10.0 -10.0M443.2 212.0h17.0M451.7 203.5v17.0M446.7 207.0l10.0 10.0M446.7 217.0l10.0 -10.0M445.9 197.0h17.0M454.4 188.5v17.0M449.4 192.0l10.0 10.0M449.4 202.0l10.0 -10.0M448.7 197.4h17.0M457.2 188.9v17.0M452.2 192.4l10.0 10.0M452.2 202.4l10.0 -10.0M451.5 197.3h17.0M460.0 188.8v17.0M455.0 192.3l10.0 10.0M455.0 202.3l10.0 -10.0M454.2 196.2h17.0M462.7 187.7v17.0M457.7 191.2l10.0 10.0M457.7 201.2l10.0 -10.0M457.0 197.0h17.0M465.5 188.5v17.0M460.5 192.0l10.0 10.0M460.5 202.0l10.0 -10.0M459.8 196.1h17.0M468.3 187.6v17.0M463.3 191.1l10.0 10.0M463.3 201.1l10.0 -10.0M462.5 197.1h17.0M471.0 188.6v17.0M466.0 192.1l10.0 10.0M466.0 202.1l10.0 -10.0M465.3 197.1h17.0M473.8 188.6v17.0M468.8 192.1l10.0 10.0M468.8 202.1l10.0 -10.0M468.1 212.0h17.0M476.6 203.5v17.0M471.6 207.0l10.0 10.0M471.6 217.0l10.0 -10.0M470.8 197.2h17.0M479.3 188.7v17.0M474.3 192.2l10.0 10.0M474.3 202.2l10.0 -10.0M473.6 167.1h17.0M482.1 158.6v17.0M477.1 162.1l10.0 10.0M477.1 172.1l10.0 -10.0M476.3 196.7h17.0M484.8 188.2v17.0M479.8 191.7l10.0 10.0M479.8 201.7l10.0 -10.0M479.1 167.1h17.0M487.6 158.6v17.0M482.6 162.1l10.0 10.0M482.6 172.1l10.0 -10.0M481.9 196.7h17.0M490.4 188.2v17.0M485.4 191.7l10.0 10.0M485.4 201.7l10.0 -10.0M484.6 183.6h17.0M493.1 175.1v17.0M488.1 178.6l10.0 10.0M488.1 188.6l10.0 -10.0M487.4 212.0h17.0M495.9 203.5v17.0M490.9 207.0l10.0 10.0M490.9 217.0l10.0 -10.0M490.2 195.0h17.0M498.7 186.5v17.0M493.7 190.0l10.0 10.0M493.7 200.0l10.0 -10.0M492.9 159.5h17.0M501.4 151.0v17.0M496.4 154.5l10.0 10.0M496.4 164.5l10.0 -10.0M495.7 163.4h17.0M504.2 154.9v17.0M499.2 158.4l10.0 10.0M499.2 168.4l10.0 -10.0M498.5 165.9h17.0M507.0 157.4v17.0M502.0 160.9l10.0 10.0M502.0 170.9l10.0 -10.0M501.2 196.5h17.0M509.7 188.0v17.0M504.7 191.5l10.0 10.0M504.7 201.5l10.0 -10.0M504.0 182.9h17.0M512.5 174.4v17.0M507.5 177.9l10.0 10.0M507.5 187.9l10.0 -10.0M506.8 212.3h17.0M515.3 203.8v17.0M510.3 207.3l10.0 10.0M510.3 217.3l10.0 -10.0M509.5 213.7h17.0M518.0 205.2v17.0M513.0 208.7l10.0 10.0M513.0 218.7l10.0 -10.0M512.3 216.9h17.0M520.8 208.4v17.0M515.8 211.9l10.0 10.0M515.8 221.9l10.0 -10.0M515.1 212.3h17.0M523.6 203.8v17.0M518.6 207.3l10.0 10.0M518.6 217.3l10.0 -10.0M517.8 196.5h17.0M526.3 188.0v17.0M521.3 191.5l10.0 10.0M521.3 201.5l10.0 -10.0M520.6 213.7h17.0M529.1 205.2v17.0M524.1 208.7l10.0 10.0M524.1 218.7l10.0 -10.0M523.4 212.3h17.0M531.9 203.8v17.0M526.9 207.3l10.0 10.0M526.9 217.3l10.0 -10.0M526.1 196.5h17.0M534.6 188.0v17.0M529.6 191.5l10.0 10.0M529.6 201.5l10.0 -10.0M528.9 213.7h17.0M537.4 205.2v17.0M532.4 208.7l10.0 10.0M532.4 218.7l10.0 -10.0M531.7 212.3h17.0M540.2 203.8v17.0M535.2 207.3l10.0 10.0M535.2 217.3l10.0 -10.0M534.4 182.9h17.0M542.9 174.4v17.0M537.9 177.9l10.0 10.0M537.9 187.9l10.0 -10.0M537.2 213.7h17.0M545.7 205.2v17.0M540.7 208.7l10.0 10.0M540.7 218.7l10.0 -10.0M540.0 196.5h17.0M548.5 188.0v17.0M543.5 191.5l10.0 10.0M543.5 201.5l10.0 -10.0M542.7 213.7h17.0M551.2 205.2v17.0M546.2 208.7l10.0 10.0M546.2 218.7l10.0 -10.0M545.5 213.7h17.0M554.0 205.2v17.0M549.0 208.7l10.0 10.0M549.0 218.7l10.0 -10.0M548.3 196.5h17.0M556.8 188.0v17.0M551.8 191.5l10.0 10.0M551.8 201.5l10.0 -10.0M551.0 181.9h17.0M559.5 173.4v17.0M554.5 176.9l10.0 10.0M554.5 186.9l10.0 -10.0M553.8 168.5h17.0M562.3 160.0v17.0M557.3 163.5l10.0 10.0M557.3 173.5l10.0 -10.0M556.6 196.5h17.0M565.1 188.0v17.0M560.1 191.5l10.0 10.0M560.1 201.5l10.0 -10.0M559.3 213.7h17.0M567.8 205.2v17.0M562.8 208.7l10.0 10.0M562.8 218.7l10.0 -10.0M562.1 196.5h17.0M570.6 188.0v17.0M565.6 191.5l10.0 10.0M565.6 201.5l10.0 -10.0M564.9 212.3h17.0M573.4 203.8v17.0M568.4 207.3l10.0 10.0M568.4 217.3l10.0 -10.0M567.6 213.7h17.0M576.1 205.2v17.0M571.1 208.7l10.0 10.0M571.1 218.7l10.0 -10.0M570.4 211.5h17.0M578.9 203.0v17.0M573.9 206.5l10.0 10.0M573.9 216.5l10.0 -10.0M573.2 196.5h17.0M581.7 188.0v17.0M576.7 191.5l10.0 10.0M576.7 201.5l10.0 -10.0M575.9 211.5h17.0M584.4 203.0v17.0M579.4 206.5l10.0 10.0M579.4 216.5l10.0 -10.0M578.7 223.5h17.0M587.2 215.0v17.0M582.2 218.5l10.0 10.0M582.2 228.5l10.0 -10.0M581.5 211.5h17.0M590.0 203.0v17.0M585.0 206.5l10.0 10.0M585.0 216.5l10.0 -10.0M584.2 196.5h17.0M592.7 188.0v17.0M587.7 191.5l10.0 10.0M587.7 201.5l10.0 -10.0M587.0 211.5h17.0M595.5 203.0v17.0M590.5 206.5l10.0 10.0M590.5 216.5l10.0 -10.0M589.7 196.5h17.0M598.2 188.0v17.0M593.2 191.5l10.0 10.0M593.2 201.5l10.0 -10.0M592.5 211.5h17.0M601.0 203.0v17.0M596.0 206.5l10.0 10.0M596.0 216.5l10.0 -10.0M595.3 196.5h17.0M603.8 188.0v17.0M598.8 191.5l10.0 10.0M598.8 201.5l10.0 -10.0M598.0 211.5h17.0M606.5 203.0v17.0M601.5 206.5l10.0 10.0M601.5 216.5l10.0 -10.0M600.8 196.5h17.0M609.3 188.0v17.0M604.3 191.5l10.0 10.0M604.3 201.5l10.0 -10.0M603.6 211.5h17.0M612.1 203.0v17.0M607.1 206.5l10.0 10.0M607.1 216.5l10.0 -10.0M606.3 196.5h17.0M614.8 188.0v17.0M609.8 191.5l10.0 10.0M609.8 201.5l10.0 -10.0M609.1 216.4h17.0M617.6 207.9v17.0M612.6 211.4l10.0 10.0M612.6 221.4l10.0 -10.0M611.9 196.5h17.0M620.4 188.0v17.0M615.4 191.5l10.0 10.0M615.4 201.5l10.0 -10.0M614.6 216.4h17.0M623.1 207.9v17.0M618.1 211.4l10.0 10.0M618.1 221.4l10.0 -10.0M617.4 196.5h17.0M625.9 188.0v17.0M620.9 191.5l10.0 10.0M620.9 201.5l10.0 -10.0M620.2 216.4h17.0M628.7 207.9v17.0M623.7 211.4l10.0 10.0M623.7 221.4l10.0 -10.0M622.9 196.5h17.0M631.4 188.0v17.0M626.4 191.5l10.0 10.0M626.4 201.5l10.0 -10.0M625.7 216.4h17.0M634.2 207.9v17.0M629.2 211.4l10.0 10.0M629.2 221.4l10.0 -10.0M628.5 196.5h17.0M637.0 188.0v17.0M632.0 191.5l10.0 10.0M632.0 201.5l10.0 -10.0M631.2 216.4h17.0M639.7 207.9v17.0M634.7 211.4l10.0 10.0M634.7 221.4l10.0 -10.0M634.0 196.5h17.0M642.5 188.0v17.0M637.5 191.5l10.0 10.0M637.5 201.5l10.0 -10.0M636.8 216.4h17.0M645.3 207.9v17.0M640.3 211.4l10.0 10.0M640.3 221.4l10.0 -10.0M639.5 196.5h17.0M648.0 188.0v17.0M643.0 191.5l10.0 10.0M643.0 201.5l10.0 -10.0M642.3 196.5h17.0M650.8 188.0v17.0M645.8 191.5l10.0 10.0M645.8 201.5l10.0 -10.0M645.1 196.5h17.0M653.6 188.0v17.0M648.6 191.5l10.0 10.0M648.6 201.5l10.0 -10.0M647.8 238.8h17.0M656.3 230.3v17.0M651.3 233.8l10.0 10.0M651.3 243.8l10.0 -10.0M650.6 255.8h17.0M659.1 247.3v17.0M654.1 250.8l10.0 10.0M654.1 260.8l10.0 -10.0M653.4 216.9h17.0M661.9 208.4v17.0M656.9 211.9l10.0 10.0M656.9 221.9l10.0 -10.0M656.1 211.5h17.0M664.6 203.0v17.0M659.6 206.5l10.0 10.0M659.6 216.5l10.0 -10.0M658.9 216.9h17.0M667.4 208.4v17.0M662.4 211.9l10.0 10.0M662.4 221.9l10.0 -10.0M661.7 224.2h17.0M670.2 215.7v17.0M665.2 219.2l10.0 10.0M665.2 229.2l10.0 -10.0M664.4 228.6h17.0M672.9 220.1v17.0M667.9 223.6l10.0 10.0M667.9 233.6l10.0 -10.0M667.2 233.9h17.0M675.7 225.4v17.0M670.7 228.9l10.0 10.0M670.7 238.9l10.0 -10.0M670.0 257.2h17.0M678.5 248.7v17.0M673.5 252.2l10.0 10.0M673.5 262.2l10.0 -10.0M672.7 233.9h17.0M681.2 225.4v17.0M676.2 228.9l10.0 10.0M676.2 238.9l10.0 -10.0M675.5 304.6h17.0M684.0 296.1v17.0M679.0 299.6l10.0 10.0M679.0 309.6l10.0 -10.0M678.3 292.9h17.0M686.8 284.4v17.0M681.8 287.9l10.0 10.0M681.8 297.9l10.0 -10.0M681.0 267.4h17.0M689.5 258.9v17.0M684.5 262.4l10.0 10.0M684.5 272.4l10.0 -10.0M683.8 285.5h17.0M692.3 277.0v17.0M687.3 280.5l10.0 10.0M687.3 290.5l10.0 -10.0M686.6 285.6h17.0M695.1 277.1v17.0M690.1 280.6l10.0 10.0M690.1 290.6l10.0 -10.0M689.3 285.7h17.0M697.8 277.2v17.0M692.8 280.7l10.0 10.0M692.8 290.7l10.0 -10.0M692.1 286.0h17.0M700.6 277.5v17.0M695.6 281.0l10.0 10.0M695.6 291.0l10.0 -10.0M694.9 285.5h17.0M703.4 277.0v17.0M698.4 280.5l10.0 10.0M698.4 290.5l10.0 -10.0M697.6 285.5h17.0M706.1 277.0v17.0M701.1 280.5l10.0 10.0M701.1 290.5l10.0 -10.0M700.4 265.7h17.0M708.9 257.2v17.0M703.9 260.7l10.0 10.0M703.9 270.7l10.0 -10.0M703.1 295.4h17.0M711.6 286.9v17.0M706.6 290.4l10.0 10.0M706.6 300.4l10.0 -10.0M705.9 314.8h17.0M714.4 306.3v17.0M709.4 309.8l10.0 10.0M709.4 319.8l10.0 -10.0M708.7 265.7h17.0M717.2 257.2v17.0M712.2 260.7l10.0 10.0M712.2 270.7l10.0 -10.0M711.4 286.2h17.0M719.9 277.7v17.0M714.9 281.2l10.0 10.0M714.9 291.2l10.0 -10.0M714.2 285.8h17.0M722.7 277.3v17.0M717.7 280.8l10.0 10.0M717.7 290.8l10.0 -10.0M717.0 285.9h17.0M725.5 277.4v17.0M720.5 280.9l10.0 10.0M720.5 290.9l10.0 -10.0M719.7 265.7h17.0M728.2 257.2v17.0M723.2 260.7l10.0 10.0M723.2 270.7l10.0 -10.0M722.5 295.4h17.0M731.0 286.9v17.0M726.0 290.4l10.0 10.0M726.0 300.4l10.0 -10.0M725.3 314.8h17.0M733.8 306.3v17.0M728.8 309.8l10.0 10.0M728.8 319.8l10.0 -10.0M728.0 286.7h17.0M736.5 278.2v17.0M731.5 281.7l10.0 10.0M731.5 291.7l10.0 -10.0M730.8 286.2h17.0M739.3 277.7v17.0M734.3 281.2l10.0 10.0M734.3 291.2l10.0 -10.0M733.6 286.4h17.0M742.1 277.9v17.0M737.1 281.4l10.0 10.0M737.1 291.4l10.0 -10.0M736.3 266.7h17.0M744.8 258.2v17.0M739.8 261.7l10.0 10.0M739.8 271.7l10.0 -10.0M739.1 285.8h17.0M747.6 277.3v17.0M742.6 280.8l10.0 10.0M742.6 290.8l10.0 -10.0M741.9 285.5h17.0M750.4 277.0v17.0M745.4 280.5l10.0 10.0M745.4 290.5l10.0 -10.0M744.6 266.7h17.0M753.1 258.2v17.0M748.1 261.7l10.0 10.0M748.1 271.7l10.0 -10.0M747.4 285.9h17.0M755.9 277.4v17.0M750.9 280.9l10.0 10.0M750.9 290.9l10.0 -10.0M750.2 286.4h17.0M758.7 277.9v17.0M753.7 281.4l10.0 10.0M753.7 291.4l10.0 -10.0M752.9 314.8h17.0M761.4 306.3v17.0M756.4 309.8l10.0 10.0M756.4 319.8l10.0 -10.0M755.7 286.3h17.0M764.2 277.8v17.0M759.2 281.3l10.0 10.0M759.2 291.3l10.0 -10.0M758.5 286.6h17.0M767.0 278.1v17.0M762.0 281.6l10.0 10.0M762.0 291.6l10.0 -10.0M761.2 266.7h17.0M769.7 258.2v17.0M764.7 261.7l10.0 10.0M764.7 271.7l10.0 -10.0M764.0 293.7h17.0M772.5 285.2v17.0M767.5 288.7l10.0 10.0M767.5 298.7l10.0 -10.0M766.8 285.6h17.0M775.3 277.1v17.0M770.3 280.6l10.0 10.0M770.3 290.6l10.0 -10.0M769.5 286.1h17.0M778.0 277.6v17.0M773.0 281.1l10.0 10.0M773.0 291.1l10.0 -10.0M772.3 286.6h17.0M780.8 278.1v17.0M775.8 281.6l10.0 10.0M775.8 291.6l10.0 -10.0M775.1 285.6h17.0M783.6 277.1v17.0M778.6 280.6l10.0 10.0M778.6 290.6l10.0 -10.0M777.8 307.3h17.0M786.3 298.8v17.0M781.3 302.3l10.0 10.0M781.3 312.3l10.0 -10.0M780.6 286.2h17.0M789.1 277.7v17.0M784.1 281.2l10.0 10.0M784.1 291.2l10.0 -10.0M783.4 286.7h17.0M791.9 278.2v17.0M786.9 281.7l10.0 10.0M786.9 291.7l10.0 -10.0M786.1 261.4h17.0M794.6 252.9v17.0M789.6 256.4l10.0 10.0M789.6 266.4l10.0 -10.0M788.9 284.9h17.0M797.4 276.4v17.0M792.4 279.9l10.0 10.0M792.4 289.9l10.0 -10.0M791.7 258.9h17.0M800.2 250.4v17.0M795.2 253.9l10.0 10.0M795.2 263.9l10.0 -10.0M794.4 261.4h17.0M802.9 252.9v17.0M797.9 256.4l10.0 10.0M797.9 266.4l10.0 -10.0M797.2 261.4h17.0M805.7 252.9v17.0M800.7 256.4l10.0 10.0M800.7 266.4l10.0 -10.0M800.0 237.1h17.0M808.5 228.6v17.0M803.5 232.1l10.0 10.0M803.5 242.1l10.0 -10.0M802.7 261.4h17.0M811.2 252.9v17.0M806.2 256.4l10.0 10.0M806.2 266.4l10.0 -10.0M805.5 236.8h17.0M814.0 228.3v17.0M809.0 231.8l10.0 10.0M809.0 241.8l10.0 -10.0M808.2 236.8h17.0M816.7 228.3v17.0M811.7 231.8l10.0 10.0M811.7 241.8l10.0 -10.0M811.0 261.4h17.0M819.5 252.9v17.0M814.5 256.4l10.0 10.0M814.5 266.4l10.0 -10.0M813.8 236.8h17.0M822.3 228.3v17.0M817.3 231.8l10.0 10.0M817.3 241.8l10.0 -10.0M816.5 261.4h17.0M825.0 252.9v17.0M820.0 256.4l10.0 10.0M820.0 266.4l10.0 -10.0M819.3 236.8h17.0M827.8 228.3v17.0M822.8 231.8l10.0 10.0M822.8 241.8l10.0 -10.0M822.1 261.4h17.0M830.6 252.9v17.0M825.6 256.4l10.0 10.0M825.6 266.4l10.0 -10.0M824.8 261.4h17.0M833.3 252.9v17.0M828.3 256.4l10.0 10.0M828.3 266.4l10.0 -10.0M827.6 236.8h17.0M836.1 228.3v17.0M831.1 231.8l10.0 10.0M831.1 241.8l10.0 -10.0M830.4 285.9h17.0M838.9 277.4v17.0M833.9 280.9l10.0 10.0M833.9 290.9l10.0 -10.0M833.1 303.2h17.0M841.6 294.7v17.0M836.6 298.2l10.0 10.0M836.6 308.2l10.0 -10.0M835.9 310.4h17.0M844.4 301.9v17.0M839.4 305.4l10.0 10.0M839.4 315.4l10.0 -10.0M838.7 312.9h17.0M847.2 304.4v17.0M842.2 307.9l10.0 10.0M842.2 317.9l10.0 -10.0M841.4 309.2h17.0M849.9 300.7v17.0M844.9 304.2l10.0 10.0M844.9 314.2l10.0 -10.0M844.2 262.7h17.0M852.7 254.2v17.0M847.7 257.7l10.0 10.0M847.7 267.7l10.0 -10.0M847.0 262.4h17.0M855.5 253.9v17.0M850.5 257.4l10.0 10.0M850.5 267.4l10.0 -10.0M849.7 261.4h17.0M858.2 252.9v17.0M853.2 256.4l10.0 10.0M853.2 266.4l10.0 -10.0M852.5 262.6h17.0M861.0 254.1v17.0M856.0 257.6l10.0 10.0M856.0 267.6l10.0 -10.0M855.3 287.6h17.0M863.8 279.1v17.0M858.8 282.6l10.0 10.0M858.8 292.6l10.0 -10.0M858.0 261.9h17.0M866.5 253.4v17.0M861.5 256.9l10.0 10.0M861.5 266.9l10.0 -10.0M860.8 261.6h17.0M869.3 253.1v17.0M864.3 256.6l10.0 10.0M864.3 266.6l10.0 -10.0M863.6 262.5h17.0M872.1 254.0v17.0M867.1 257.5l10.0 10.0M867.1 267.5l10.0 -10.0M866.3 262.4h17.0M874.8 253.9v17.0M869.8 257.4l10.0 10.0M869.8 267.4l10.0 -10.0M869.1 262.5h17.0M877.6 254.0v17.0M872.6 257.5l10.0 10.0M872.6 267.5l10.0 -10.0M871.9 322.4h17.0M880.4 313.9v17.0M875.4 317.4l10.0 10.0M875.4 327.4l10.0 -10.0M874.6 311.7h17.0M883.1 303.2v17.0M878.1 306.7l10.0 10.0M878.1 316.7l10.0 -10.0M877.4 315.5h17.0M885.9 307.0v17.0M880.9 310.5l10.0 10.0M880.9 320.5l10.0 -10.0M880.2 332.3h17.0M888.7 323.8v17.0M883.7 327.3l10.0 10.0M883.7 337.3l10.0 -10.0M882.9 306.8h17.0M891.4 298.3v17.0M886.4 301.8l10.0 10.0M886.4 311.8l10.0 -10.0M885.7 307.0h17.0M894.2 298.5v17.0M889.2 302.0l10.0 10.0M889.2 312.0l10.0 -10.0M888.5 284.9h17.0M897.0 276.4v17.0M892.0 279.9l10.0 10.0M892.0 289.9l10.0 -10.0M891.2 284.2h17.0M899.7 275.7v17.0M894.7 279.2l10.0 10.0M894.7 289.2l10.0 -10.0M894.0 273.3h17.0M902.5 264.8v17.0M897.5 268.3l10.0 10.0M897.5 278.3l10.0 -10.0M896.8 296.8h17.0M905.3 288.3v17.0M900.3 291.8l10.0 10.0M900.3 301.8l10.0 -10.0M899.5 292.2h17.0M908.0 283.7v17.0M903.0 287.2l10.0 10.0M903.0 297.2l10.0 -10.0M902.3 261.4h17.0M910.8 252.9v17.0M905.8 256.4l10.0 10.0M905.8 266.4l10.0 -10.0M905.1 260.9h17.0M913.6 252.4v17.0M908.6 255.9l10.0 10.0M908.6 265.9l10.0 -10.0M907.8 261.6h17.0M916.3 253.1v17.0M911.3 256.6l10.0 10.0M911.3 266.6l10.0 -10.0M910.6 292.2h17.0M919.1 283.7v17.0M914.1 287.2l10.0 10.0M914.1 297.2l10.0 -10.0M913.4 286.1h17.0M921.9 277.6v17.0M916.9 281.1l10.0 10.0M916.9 291.1l10.0 -10.0M916.1 299.5h17.0M924.6 291.0v17.0M919.6 294.5l10.0 10.0M919.6 304.5l10.0 -10.0M918.9 301.9h17.0M927.4 293.4v17.0M922.4 296.9l10.0 10.0M922.4 306.9l10.0 -10.0M921.6 287.4h17.0M930.1 278.9v17.0M925.1 282.4l10.0 10.0M925.1 292.4l10.0 -10.0M924.4 286.1h17.0M932.9 277.6v17.0M927.9 281.1l10.0 10.0M927.9 291.1l10.0 -10.0M927.2 304.4h17.0M935.7 295.9v17.0M930.7 299.4l10.0 10.0M930.7 309.4l10.0 -10.0M929.9 308.7h17.0M938.4 300.2v17.0M933.4 303.7l10.0 10.0M933.4 313.7l10.0 -10.0M932.7 286.1h17.0M941.2 277.6v17.0M936.2 281.1l10.0 10.0M936.2 291.1l10.0 -10.0M935.5 286.1h17.0M944.0 277.6v17.0M939.0 281.1l10.0 10.0M939.0 291.1l10.0 -10.0M938.2 306.8h17.0M946.7 298.3v17.0M941.7 301.8l10.0 10.0M941.7 311.8l10.0 -10.0M941.0 311.7h17.0M949.5 303.2v17.0M944.5 306.7l10.0 10.0M944.5 316.7l10.0 -10.0M943.8 332.3h17.0M952.3 323.8v17.0M947.3 327.3l10.0 10.0M947.3 337.3l10.0 -10.0M946.5 311.7h17.0M955.0 303.2v17.0M950.0 306.7l10.0 10.0M950.0 316.7l10.0 -10.0M949.3 309.2h17.0M957.8 300.7v17.0M952.8 304.2l10.0 10.0M952.8 314.2l10.0 -10.0M952.1 306.8h17.0M960.6 298.3v17.0M955.6 301.8l10.0 10.0M955.6 311.8l10.0 -10.0M954.8 311.7h17.0M963.3 303.2v17.0M958.3 306.7l10.0 10.0M958.3 316.7l10.0 -10.0M957.6 293.4h17.0M966.1 284.9v17.0M961.1 288.4l10.0 10.0M961.1 298.4l10.0 -10.0M960.4 305.3h17.0M968.9 296.8v17.0M963.9 300.3l10.0 10.0M963.9 310.3l10.0 -10.0M963.1 309.2h17.0M971.6 300.7v17.0M966.6 304.2l10.0 10.0M966.6 314.2l10.0 -10.0M965.9 332.3h17.0M974.4 323.8v17.0M969.4 327.3l10.0 10.0M969.4 337.3l10.0 -10.0M968.7 311.7h17.0M977.2 303.2v17.0M972.2 306.7l10.0 10.0M972.2 316.7l10.0 -10.0M971.4 314.1h17.0M979.9 305.6v17.0M974.9 309.1l10.0 10.0M974.9 319.1l10.0 -10.0M974.2 316.5h17.0M982.7 308.0v17.0M977.7 311.5l10.0 10.0M977.7 321.5l10.0 -10.0M977.0 319.0h17.0M985.5 310.5v17.0M980.5 314.0l10.0 10.0M980.5 324.0l10.0 -10.0M979.7 316.5h17.0M988.2 308.0v17.0M983.2 311.5l10.0 10.0M983.2 321.5l10.0 -10.0M982.5 323.8h17.0M991.0 315.3v17.0M986.0 318.8l10.0 10.0M986.0 328.8l10.0 -10.0M985.3 332.3h17.0M993.8 323.8v17.0M988.8 327.3l10.0 10.0M988.8 337.3l10.0 -10.0M988.0 338.4h17.0M996.5 329.9v17.0M991.5 333.4l10.0 10.0M991.5 343.4l10.0 -10.0M990.8 331.1h17.0M999.3 322.6v17.0M994.3 326.1l10.0 10.0M994.3 336.1l10.0 -10.0M993.6 326.2h17.0M1002.1 317.7v17.0M997.1 321.2l10.0 10.0M997.1 331.2l10.0 -10.0M996.3 323.8h17.0M1004.8 315.3v17.0M999.8 318.8l10.0 10.0M999.8 328.8l10.0 -10.0M999.1 326.2h17.0M1007.6 317.7v17.0M1002.6 321.2l10.0 10.0M1002.6 331.2l10.0 -10.0M1001.9 334.7h17.0M1010.4 326.2v17.0M1005.4 329.7l10.0 10.0M1005.4 339.7l10.0 -10.0M1004.6 342.0h17.0M1013.1 333.5v17.0M1008.1 337.0l10.0 10.0M1008.1 347.0l10.0 -10.0M1007.4 348.1h17.0M1015.9 339.6v17.0M1010.9 343.1l10.0 10.0M1010.9 353.1l10.0 -10.0M1010.2 351.8h17.0M1018.7 343.3v17.0M1013.7 346.8l10.0 10.0M1013.7 356.8l10.0 -10.0M1012.9 350.5h17.0M1021.4 342.0v17.0M1016.4 345.5l10.0 10.0M1016.4 355.5l10.0 -10.0M1015.7 349.3h17.0M1024.2 340.8v17.0M1019.2 344.3l10.0 10.0M1019.2 354.3l10.0 -10.0M1018.5 344.0h17.0M1027.0 335.5v17.0M1022.0 339.0l10.0 10.0M1022.0 349.0l10.0 -10.0M1021.2 344.1h17.0M1029.7 335.6v17.0M1024.7 339.1l10.0 10.0M1024.7 349.1l10.0 -10.0M1024.0 359.5h17.0M1032.5 351.0v17.0M1027.5 354.5l10.0 10.0M1027.5 364.5l10.0 -10.0M1026.8 343.6h17.0M1035.2 335.1v17.0M1030.2 338.6l10.0 10.0M1030.2 348.6l10.0 -10.0M1029.5 343.8h17.0M1038.0 335.3v17.0M1033.0 338.8l10.0 10.0M1033.0 348.8l10.0 -10.0M1032.3 346.1h17.0M1040.8 337.6v17.0M1035.8 341.1l10.0 10.0M1035.8 351.1l10.0 -10.0M1035.0 346.3h17.0M1043.5 337.8v17.0M1038.5 341.3l10.0 10.0M1038.5 351.3l10.0 -10.0M1037.8 344.9h17.0M1046.3 336.4v17.0M1041.3 339.9l10.0 10.0M1041.3 349.9l10.0 -10.0M1040.6 344.7h17.0M1049.1 336.2v17.0M1044.1 339.7l10.0 10.0M1044.1 349.7l10.0 -10.0M1043.3 346.0h17.0M1051.8 337.5v17.0M1046.8 341.0l10.0 10.0M1046.8 351.0l10.0 -10.0M1046.1 346.0h17.0M1054.6 337.5v17.0M1049.6 341.0l10.0 10.0M1049.6 351.0l10.0 -10.0M1048.9 347.6h17.0M1057.4 339.1v17.0M1052.4 342.6l10.0 10.0M1052.4 352.6l10.0 -10.0M1051.6 346.9h17.0M1060.1 338.4v17.0M1055.1 341.9l10.0 10.0M1055.1 351.9l10.0 -10.0M1054.4 362.7h17.0M1062.9 354.2v17.0M1057.9 357.7l10.0 10.0M1057.9 367.7l10.0 -10.0M1057.2 348.1h17.0M1065.7 339.6v17.0M1060.7 343.1l10.0 10.0M1060.7 353.1l10.0 -10.0M1059.9 362.1h17.0M1068.4 353.6v17.0M1063.4 357.1l10.0 10.0M1063.4 367.1l10.0 -10.0M1062.7 361.8h17.0M1071.2 353.3v17.0M1066.2 356.8l10.0 10.0M1066.2 366.8l10.0 -10.0M1065.5 363.5h17.0M1074.0 355.0v17.0M1069.0 358.5l10.0 10.0M1069.0 368.5l10.0 -10.0M1068.2 363.9h17.0M1076.7 355.4v17.0M1071.7 358.9l10.0 10.0M1071.7 368.9l10.0 -10.0M1071.0 363.8h17.0M1079.5 355.3v17.0M1074.5 358.8l10.0 10.0M1074.5 368.8l10.0 -10.0M1073.8 362.9h17.0M1082.3 354.4v17.0M1077.3 357.9l10.0 10.0M1077.3 367.9l10.0 -10.0M1076.5 362.5h17.0M1085.0 354.0v17.0M1080.0 357.5l10.0 10.0M1080.0 367.5l10.0 -10.0M1079.3 361.9h17.0M1087.8 353.4v17.0M1082.8 356.9l10.0 10.0M1082.8 366.9l10.0 -10.0M1082.1 362.4h17.0M1090.6 353.9v17.0M1085.6 357.4l10.0 10.0M1085.6 367.4l10.0 -10.0M1084.8 362.6h17.0M1093.3 354.1v17.0M1088.3 357.6l10.0 10.0M1088.3 367.6l10.0 -10.0M1087.6 374.8h17.0M1096.1 366.3v17.0M1091.1 369.8l10.0 10.0M1091.1 379.8l10.0 -10.0M1090.4 378.2h17.0M1098.9 369.7v17.0M1093.9 373.2l10.0 10.0M1093.9 383.2l10.0 -10.0M1093.1 373.8h17.0M1101.6 365.3v17.0M1096.6 368.8l10.0 10.0M1096.6 378.8l10.0 -10.0M1095.9 377.5h17.0M1104.4 369.0v17.0M1099.4 372.5l10.0 10.0M1099.4 382.5l10.0 -10.0M1098.7 373.5h17.0M1107.2 365.0v17.0M1102.2 368.5l10.0 10.0M1102.2 378.5l10.0 -10.0M1101.4 375.4h17.0M1109.9 366.9v17.0M1104.9 370.4l10.0 10.0M1104.9 380.4l10.0 -10.0M1104.2 376.3h17.0M1112.7 367.8v17.0M1107.7 371.3l10.0 10.0M1107.7 381.3l10.0 -10.0M1107.0 379.2h17.0M1115.5 370.7v17.0M1110.5 374.2l10.0 10.0M1110.5 384.2l10.0 -10.0M1109.7 378.7h17.0M1118.2 370.2v17.0M1113.2 373.7l10.0 10.0M1113.2 383.7l10.0 -10.0M1112.5 384.8h17.0M1121.0 376.3v17.0M1116.0 379.8l10.0 10.0M1116.0 389.8l10.0 -10.0M1115.3 376.4h17.0M1123.8 367.9v17.0M1118.8 371.4l10.0 10.0M1118.8 381.4l10.0 -10.0M1118.0 380.3h17.0M1126.5 371.8v17.0M1121.5 375.3l10.0 10.0M1121.5 385.3l10.0 -10.0M1120.8 380.9h17.0M1129.3 372.4v17.0M1124.3 375.9l10.0 10.0M1124.3 385.9l10.0 -10.0M1123.6 378.2h17.0M1132.1 369.7v17.0M1127.1 373.2l10.0 10.0M1127.1 383.2l10.0 -10.0M1126.3 378.1h17.0M1134.8 369.6v17.0M1129.8 373.1l10.0 10.0M1129.8 383.1l10.0 -10.0M1129.1 384.8h17.0M1137.6 376.3v17.0M1132.6 379.8l10.0 10.0M1132.6 389.8l10.0 -10.0M1131.9 380.9h17.0M1140.4 372.4v17.0M1135.4 375.9l10.0 10.0M1135.4 385.9l10.0 -10.0M1134.6 378.8h17.0M1143.1 370.3v17.0M1138.1 373.8l10.0 10.0M1138.1 383.8l10.0 -10.0M1137.4 359.5h17.0M1145.9 351.0v17.0M1140.9 354.5l10.0 10.0M1140.9 364.5l10.0 -10.0M1140.1 381.2h17.0M1148.6 372.7v17.0M1143.6 376.2l10.0 10.0M1143.6 386.2l10.0 -10.0M1142.9 362.7h17.0M1151.4 354.2v17.0M1146.4 357.7l10.0 10.0M1146.4 367.7l10.0 -10.0M1145.7 377.5h17.0M1154.2 369.0v17.0M1149.2 372.5l10.0 10.0M1149.2 382.5l10.0 -10.0M1148.4 379.8h17.0M1156.9 371.3v17.0M1151.9 374.8l10.0 10.0M1151.9 384.8l10.0 -10.0M1151.2 378.5h17.0M1159.7 370.0v17.0M1154.7 373.5l10.0 10.0M1154.7 383.5l10.0 -10.0M1154.0 381.4h17.0M1162.5 372.9v17.0M1157.5 376.4l10.0 10.0M1157.5 386.4l10.0 -10.0M1156.7 388.2h17.0M1165.2 379.7v17.0M1160.2 383.2l10.0 10.0M1160.2 393.2l10.0 -10.0M1159.5 383.3h17.0M1168.0 374.8v17.0M1163.0 378.3l10.0 10.0M1163.0 388.3l10.0 -10.0M1162.3 379.1h17.0M1170.8 370.6v17.0M1165.8 374.1l10.0 10.0M1165.8 384.1l10.0 -10.0M1165.0 380.9h17.0M1173.5 372.4v17.0M1168.5 375.9l10.0 10.0M1168.5 385.9l10.0 -10.0M1167.8 383.7h17.0M1176.3 375.2v17.0M1171.3 378.7l10.0 10.0M1171.3 388.7l10.0 -10.0M1170.6 385.8h17.0M1179.1 377.3v17.0M1174.1 380.8l10.0 10.0M1174.1 390.8l10.0 -10.0M1173.3 383.0h17.0M1181.8 374.5v17.0M1176.8 378.0l10.0 10.0M1176.8 388.0l10.0 -10.0M1176.1 382.1h17.0M1184.6 373.6v17.0M1179.6 377.1l10.0 10.0M1179.6 387.1l10.0 -10.0M1178.9 384.0h17.0M1187.4 375.5v17.0M1182.4 379.0l10.0 10.0M1182.4 389.0l10.0 -10.0M1181.6 385.3h17.0M1190.1 376.8v17.0M1185.1 380.3l10.0 10.0M1185.1 390.3l10.0 -10.0M1184.4 383.0h17.0M1192.9 374.5v17.0M1187.9 378.0l10.0 10.0M1187.9 388.0l10.0 -10.0M1187.2 381.6h17.0M1195.7 373.1v17.0M1190.7 376.6l10.0 10.0M1190.7 386.6l10.0 -10.0M1189.9 400.3h17.0M1198.4 391.8v17.0M1193.4 395.3l10.0 10.0M1193.4 405.3l10.0 -10.0M1192.7 379.7h17.0M1201.2 371.2v17.0M1196.2 374.7l10.0 10.0M1196.2 384.7l10.0 -10.0M1195.5 400.8h17.0M1204.0 392.3v17.0M1199.0 395.8l10.0 10.0M1199.0 405.8l10.0 -10.0M1198.2 399.4h17.0M1206.7 390.9v17.0M1201.7 394.4l10.0 10.0M1201.7 404.4l10.0 -10.0M1201.0 399.5h17.0M1209.5 391.0v17.0M1204.5 394.5l10.0 10.0M1204.5 404.5l10.0 -10.0M1203.8 400.1h17.0M1212.3 391.6v17.0M1207.3 395.1l10.0 10.0M1207.3 405.1l10.0 -10.0M1206.5 400.8h17.0M1215.0 392.3v17.0M1210.0 395.8l10.0 10.0M1210.0 405.8l10.0 -10.0M1209.3 399.0h17.0M1217.8 390.5v17.0M1212.8 394.0l10.0 10.0M1212.8 404.0l10.0 -10.0M1212.1 400.6h17.0M1220.6 392.1v17.0M1215.6 395.6l10.0 10.0M1215.6 405.6l10.0 -10.0M1214.8 399.3h17.0M1223.3 390.8v17.0M1218.3 394.3l10.0 10.0M1218.3 404.3l10.0 -10.0M1217.6 420.5h17.0M1226.1 412.0v17.0M1221.1 415.5l10.0 10.0M1221.1 425.5l10.0 -10.0M1220.4 400.8h17.0M1228.9 392.3v17.0M1223.9 395.8l10.0 10.0M1223.9 405.8l10.0 -10.0M1223.1 399.5h17.0M1231.6 391.0v17.0M1226.6 394.5l10.0 10.0M1226.6 404.5l10.0 -10.0M1225.9 400.6h17.0M1234.4 392.1v17.0M1229.4 395.6l10.0 10.0M1229.4 405.6l10.0 -10.0M1228.7 404.0h17.0M1237.2 395.5v17.0M1232.2 399.0l10.0 10.0M1232.2 409.0l10.0 -10.0M1231.4 408.9h17.0M1239.9 400.4v17.0M1234.9 403.9l10.0 10.0M1234.9 413.9l10.0 -10.0M1234.2 415.4h17.0M1242.7 406.9v17.0M1237.7 410.4l10.0 10.0M1237.7 420.4l10.0 -10.0M1237.0 471.4h17.0M1245.5 462.9v17.0M1240.5 466.4l10.0 10.0M1240.5 476.4l10.0 -10.0M1239.7 472.0h17.0M1248.2 463.5v17.0M1243.2 467.0l10.0 10.0M1243.2 477.0l10.0 -10.0M1242.5 472.5h17.0M1251.0 464.0v17.0M1246.0 467.5l10.0 10.0M1246.0 477.5l10.0 -10.0M1245.3 472.4h17.0M1253.8 463.9v17.0M1248.8 467.4l10.0 10.0M1248.8 477.4l10.0 -10.0M1248.0 490.8h17.0M1256.5 482.3v17.0M1251.5 485.8l10.0 10.0M1251.5 495.8l10.0 -10.0M1250.8 471.8h17.0M1259.3 463.3v17.0M1254.3 466.8l10.0 10.0M1254.3 476.8l10.0 -10.0M1253.5 471.4h17.0M1262.0 462.9v17.0M1257.0 466.4l10.0 10.0M1257.0 476.4l10.0 -10.0M1256.3 456.0h17.0M1264.8 447.5v17.0M1259.8 451.0l10.0 10.0M1259.8 461.0l10.0 -10.0M1259.1 490.8h17.0M1267.6 482.3v17.0M1262.6 485.8l10.0 10.0M1262.6 495.8l10.0 -10.0M1261.8 472.0h17.0M1270.3 463.5v17.0M1265.3 467.0l10.0 10.0M1265.3 477.0l10.0 -10.0M1264.6 449.2h17.0M1273.1 440.7v17.0M1268.1 444.2l10.0 10.0M1268.1 454.2l10.0 -10.0M1267.4 448.7h17.0M1275.9 440.2v17.0M1270.9 443.7l10.0 10.0M1270.9 453.7l10.0 -10.0M1270.1 467.9h17.0M1278.6 459.4v17.0M1273.6 462.9l10.0 10.0M1273.6 472.9l10.0 -10.0M1272.9 449.7h17.0M1281.4 441.2v17.0M1276.4 444.7l10.0 10.0M1276.4 454.7l10.0 -10.0M1275.7 478.1h17.0M1284.2 469.6v17.0M1279.2 473.1l10.0 10.0M1279.2 483.1l10.0 -10.0M1278.4 484.2h17.0M1286.9 475.7v17.0M1281.9 479.2l10.0 10.0M1281.9 489.2l10.0 -10.0M1281.2 488.1h17.0M1289.7 479.6v17.0M1284.7 483.1l10.0 10.0M1284.7 493.1l10.0 -10.0M1284.0 486.9h17.0M1292.5 478.4v17.0M1287.5 481.9l10.0 10.0M1287.5 491.9l10.0 -10.0M1286.7 495.6h17.0M1295.2 487.1v17.0M1290.2 490.6l10.0 10.0M1290.2 500.6l10.0 -10.0M1289.5 497.1h17.0M1298.0 488.6v17.0M1293.0 492.1l10.0 10.0M1293.0 502.1l10.0 -10.0M1292.3 498.5h17.0M1300.8 490.0v17.0M1295.8 493.5l10.0 10.0M1295.8 503.5l10.0 -10.0M1295.0 496.9h17.0M1303.5 488.4v17.0M1298.5 491.9l10.0 10.0M1298.5 501.9l10.0 -10.0M1297.8 493.5h17.0M1306.3 485.0v17.0M1301.3 488.5l10.0 10.0M1301.3 498.5l10.0 -10.0M1300.6 495.2h17.0M1309.1 486.7v17.0M1304.1 490.2l10.0 10.0M1304.1 500.2l10.0 -10.0M1303.3 498.3h17.0M1311.8 489.8v17.0M1306.8 493.3l10.0 10.0M1306.8 503.3l10.0 -10.0M1306.1 497.3h17.0M1314.6 488.8v17.0M1309.6 492.3l10.0 10.0M1309.6 502.3l10.0 -10.0M1308.9 499.4h17.0M1317.4 490.9v17.0M1312.4 494.4l10.0 10.0M1312.4 504.4l10.0 -10.0M1311.6 520.6h17.0M1320.1 512.1v17.0M1315.1 515.6l10.0 10.0M1315.1 525.6l10.0 -10.0M1314.4 509.5h17.0M1322.9 501.0v17.0M1317.9 504.5l10.0 10.0M1317.9 514.5l10.0 -10.0M1317.2 503.6h17.0M1325.7 495.1v17.0M1320.7 498.6l10.0 10.0M1320.7 508.6l10.0 -10.0M1319.9 506.9h17.0M1328.4 498.4v17.0M1323.4 501.9l10.0 10.0M1323.4 511.9l10.0 -10.0M1322.7 515.3h17.0M1331.2 506.8v17.0M1326.2 510.3l10.0 10.0M1326.2 520.3l10.0 -10.0M1325.5 510.5h17.0M1334.0 502.0v17.0M1329.0 505.5l10.0 10.0M1329.0 515.5l10.0 -10.0M1328.2 512.5h17.0M1336.7 504.0v17.0M1331.7 507.5l10.0 10.0M1331.7 517.5l10.0 -10.0M1331.0 511.7h17.0M1339.5 503.2v17.0M1334.5 506.7l10.0 10.0M1334.5 516.7l10.0 -10.0M1333.8 511.3h17.0M1342.3 502.8v17.0M1337.3 506.3l10.0 10.0M1337.3 516.3l10.0 -10.0M1336.5 511.3h17.0M1345.0 502.8v17.0M1340.0 506.3l10.0 10.0M1340.0 516.3l10.0 -10.0M1339.3 511.4h17.0M1347.8 502.9v17.0M1342.8 506.4l10.0 10.0M1342.8 516.4l10.0 -10.0M1342.1 507.1h17.0M1350.6 498.6v17.0M1345.6 502.1l10.0 10.0M1345.6 512.1l10.0 -10.0M1344.8 508.3h17.0M1353.3 499.8v17.0M1348.3 503.3l10.0 10.0M1348.3 513.3l10.0 -10.0M1347.6 525.5h17.0M1356.1 517.0v17.0M1351.1 520.5l10.0 10.0M1351.1 530.5l10.0 -10.0M1350.4 524.3h17.0M1358.9 515.8v17.0M1353.9 519.3l10.0 10.0M1353.9 529.3l10.0 -10.0M1353.1 519.8h17.0M1361.6 511.3v17.0M1356.6 514.8l10.0 10.0M1356.6 524.8l10.0 -10.0M1355.9 527.9h17.0M1364.4 519.4v17.0M1359.4 522.9l10.0 10.0M1359.4 532.9l10.0 -10.0M1358.7 513.6h17.0M1367.2 505.1v17.0M1362.2 508.6l10.0 10.0M1362.2 518.6l10.0 -10.0M1361.4 532.8h17.0M1369.9 524.3v17.0M1364.9 527.8l10.0 10.0M1364.9 537.8l10.0 -10.0M1364.2 542.5h17.0M1372.7 534.0v17.0M1367.7 537.5l10.0 10.0M1367.7 547.5l10.0 -10.0M1366.9 545.9h17.0M1375.4 537.4v17.0M1370.4 540.9l10.0 10.0M1370.4 550.9l10.0 -10.0M1369.7 542.5h17.0M1378.2 534.0v17.0M1373.2 537.5l10.0 10.0M1373.2 547.5l10.0 -10.0M1372.5 545.9h17.0M1381.0 537.4v17.0M1376.0 540.9l10.0 10.0M1376.0 550.9l10.0 -10.0M1375.2 542.5h17.0M1383.7 534.0v17.0M1378.7 537.5l10.0 10.0M1378.7 547.5l10.0 -10.0M1383.5 517.0h17.0M1392.0 508.5v17.0M1387.0 512.0l10.0 10.0M1387.0 522.0l10.0 -10.0M1389.1 506.1h17.0M1397.6 497.6v17.0M1392.6 501.1l10.0 10.0M1392.6 511.1l10.0 -10.0M1391.8 498.5h17.0M1400.3 490.0v17.0M1395.3 493.5l10.0 10.0M1395.3 503.5l10.0 -10.0M1394.6 509.7h17.0M1403.1 501.2v17.0M1398.1 504.7l10.0 10.0M1398.1 514.7l10.0 -10.0M1400.1 517.0h17.0M1408.6 508.5v17.0M1403.6 512.0l10.0 10.0M1403.6 522.0l10.0 -10.0M1405.7 534.0h17.0M1414.2 525.5v17.0M1409.2 529.0l10.0 10.0M1409.2 539.0l10.0 -10.0M1408.4 462.3h17.0M1416.9 453.8v17.0M1411.9 457.3l10.0 10.0M1411.9 467.3l10.0 -10.0M1411.2 461.1h17.0M1419.7 452.6v17.0M1414.7 456.1l10.0 10.0M1414.7 466.1l10.0 -10.0M1414.0 467.2h17.0M1422.5 458.7v17.0M1417.5 462.2l10.0 10.0M1417.5 472.2l10.0 -10.0M1416.7 441.7h17.0M1425.2 433.2v17.0M1420.2 436.7l10.0 10.0M1420.2 446.7l10.0 -10.0M1419.5 469.6h17.0M1428.0 461.1v17.0M1423.0 464.6l10.0 10.0M1423.0 474.6l10.0 -10.0M1422.3 471.3h17.0M1430.8 462.8v17.0M1425.8 466.3l10.0 10.0M1425.8 476.3l10.0 -10.0M1425.0 461.1h17.0M1433.5 452.6v17.0M1428.5 456.1l10.0 10.0M1428.5 466.1l10.0 -10.0M1427.8 467.2h17.0M1436.3 458.7v17.0M1431.3 462.2l10.0 10.0M1431.3 472.2l10.0 -10.0M1430.6 494.7h17.0M1439.1 486.2v17.0M1434.1 489.7l10.0 10.0M1434.1 499.7l10.0 -10.0M1433.3 497.5h17.0M1441.8 489.0v17.0M1436.8 492.5l10.0 10.0M1436.8 502.5l10.0 -10.0M1436.1 489.0h17.0M1444.6 480.5v17.0M1439.6 484.0l10.0 10.0M1439.6 494.0l10.0 -10.0M1438.9 494.8h17.0M1447.4 486.3v17.0M1442.4 489.8l10.0 10.0M1442.4 499.8l10.0 -10.0M1441.6 471.3h17.0M1450.1 462.8v17.0M1445.1 466.3l10.0 10.0M1445.1 476.3l10.0 -10.0M1444.4 479.8h17.0M1452.9 471.3v17.0M1447.9 474.8l10.0 10.0M1447.9 484.8l10.0 -10.0M1447.2 495.1h17.0M1455.7 486.6v17.0M1450.7 490.1l10.0 10.0M1450.7 500.1l10.0 -10.0M1449.9 479.3h17.0M1458.4 470.8v17.0M1453.4 474.3l10.0 10.0M1453.4 484.3l10.0 -10.0M1452.7 498.1h17.0M1461.2 489.6v17.0M1456.2 493.1l10.0 10.0M1456.2 503.1l10.0 -10.0M1455.5 498.1h17.0M1464.0 489.6v17.0M1459.0 493.1l10.0 10.0M1459.0 503.1l10.0 -10.0M1458.2 479.8h17.0M1466.7 471.3v17.0M1461.7 474.8l10.0 10.0M1461.7 484.8l10.0 -10.0M1461.0 494.7h17.0M1469.5 486.2v17.0M1464.5 489.7l10.0 10.0M1464.5 499.7l10.0 -10.0M1463.8 497.3h17.0M1472.3 488.8v17.0M1467.3 492.3l10.0 10.0M1467.3 502.3l10.0 -10.0M1466.5 495.4h17.0M1475.0 486.9v17.0M1470.0 490.4l10.0 10.0M1470.0 500.4l10.0 -10.0M1469.3 527.2h17.0M1477.8 518.7v17.0M1472.8 522.2l10.0 10.0M1472.8 532.2l10.0 -10.0M1472.0 539.3h17.0M1480.5 530.8v17.0M1475.5 534.3l10.0 10.0M1475.5 544.3l10.0 -10.0M1474.8 542.4h17.0M1483.3 533.9v17.0M1478.3 537.4l10.0 10.0M1478.3 547.4l10.0 -10.0M1477.6 543.6h17.0M1486.1 535.1v17.0M1481.1 538.6l10.0 10.0M1481.1 548.6l10.0 -10.0M1480.3 562.7h17.0M1488.8 554.2v17.0M1483.8 557.7l10.0 10.0M1483.8 567.7l10.0 -10.0M1483.1 544.2h17.0M1491.6 535.7v17.0M1486.6 539.2l10.0 10.0M1486.6 549.2l10.0 -10.0M1485.9 546.6h17.0M1494.4 538.1v17.0M1489.4 541.6l10.0 10.0M1489.4 551.6l10.0 -10.0M1488.6 534.0h17.0M1497.1 525.5v17.0M1492.1 529.0l10.0 10.0M1492.1 539.0l10.0 -10.0M1491.4 548.3h17.0M1499.9 539.8v17.0M1494.9 543.3l10.0 10.0M1494.9 553.3l10.0 -10.0M1494.2 547.4h17.0M1502.7 538.9v17.0M1497.7 542.4l10.0 10.0M1497.7 552.4l10.0 -10.0M1498.0 558.5h17.0M1506.5 550.0v17.0M1501.5 553.5l10.0 10.0M1501.5 563.5l10.0 -10.0M1502.5 558.5h17.0M1511.0 550.0v17.0M1506.0 553.5l10.0 10.0M1506.0 563.5l10.0 -10.0M1499.7 562.7h17.0M1508.2 554.2v17.0M1503.2 557.7l10.0 10.0M1503.2 567.7l10.0 -10.0M1505.0 591.1h17.0M1513.5 582.6v17.0M1508.5 586.1l10.0 10.0M1508.5 596.1l10.0 -10.0M1504.7 591.6h17.0M1513.2 583.1v17.0M1508.2 586.6l10.0 10.0M1508.2 596.6l10.0 -10.0M1508.0 559.5h17.0M1516.5 551.0v17.0M1511.5 554.5l10.0 10.0M1511.5 564.5l10.0 -10.0M1508.6 611.0h17.0M1517.1 602.5v17.0M1512.1 606.0l10.0 10.0M1512.1 616.0l10.0 -10.0M1514.9 611.0h17.0M1523.4 602.5v17.0M1518.4 606.0l10.0 10.0M1518.4 616.0l10.0 -10.0M1519.9 611.0h17.0M1528.4 602.5v17.0M1523.4 606.0l10.0 10.0M1523.4 616.0l10.0 -10.0M1529.6 611.0h17.0M1538.1 602.5v17.0M1533.1 606.0l10.0 10.0M1533.1 616.0l10.0 -10.0M1533.7 611.0h17.0M1542.2 602.5v17.0M1537.2 606.0l10.0 10.0M1537.2 616.0l10.0 -10.0M1513.5 650.9h17.0M1522.0 642.4v17.0M1517.0 645.9l10.0 10.0M1517.0 655.9l10.0 -10.0M1518.5 589.9h17.0M1527.0 581.4v17.0M1522.0 584.9l10.0 10.0M1522.0 594.9l10.0 -10.0M1524.3 545.9h17.0M1532.8 537.4v17.0M1527.8 540.9l10.0 10.0M1527.8 550.9l10.0 -10.0M1524.6 549.8h17.0M1533.1 541.3v17.0M1528.1 544.8l10.0 10.0M1528.1 554.8l10.0 -10.0M1527.1 649.2h17.0M1535.6 640.7v17.0M1530.6 644.2l10.0 10.0M1530.6 654.2l10.0 -10.0M1530.4 671.3h17.0M1538.9 662.8v17.0M1533.9 666.3l10.0 10.0M1533.9 676.3l10.0 -10.0M1532.9 643.4h17.0M1541.4 634.9v17.0M1536.4 638.4l10.0 10.0M1536.4 648.4l10.0 -10.0M1535.7 642.4h17.0M1544.2 633.9v17.0M1539.2 637.4l10.0 10.0M1539.2 647.4l10.0 -10.0M1538.4 641.4h17.0M1546.9 632.9v17.0M1541.9 636.4l10.0 10.0M1541.9 646.4l10.0 -10.0M1541.2 642.1h17.0M1549.7 633.6v17.0M1544.7 637.1l10.0 10.0M1544.7 647.1l10.0 -10.0M1544.0 643.4h17.0M1552.5 634.9v17.0M1547.5 638.4l10.0 10.0M1547.5 648.4l10.0 -10.0M1548.1 644.1h17.0M1556.6 635.6v17.0M1551.6 639.1l10.0 10.0M1551.6 649.1l10.0 -10.0M1552.3 642.6h17.0M1560.8 634.1v17.0M1555.8 637.6l10.0 10.0M1555.8 647.6l10.0 -10.0M1556.4 644.1h17.0M1564.9 635.6v17.0M1559.9 639.1l10.0 10.0M1559.9 649.1l10.0 -10.0M1561.9 645.8h17.0M1570.4 637.3v17.0M1565.4 640.8l10.0 10.0M1565.4 650.8l10.0 -10.0M1568.9 643.4h17.0M1577.4 634.9v17.0M1572.4 638.4l10.0 10.0M1572.4 648.4l10.0 -10.0M1573.0 641.4h17.0M1581.5 632.9v17.0M1576.5 636.4l10.0 10.0M1576.5 646.4l10.0 -10.0M1577.2 643.1h17.0M1585.7 634.6v17.0M1580.7 638.1l10.0 10.0M1580.7 648.1l10.0 -10.0M1584.1 642.6h17.0M1592.6 634.1v17.0M1587.6 637.6l10.0 10.0M1587.6 647.6l10.0 -10.0M1588.8 642.1h17.0M1597.3 633.6v17.0M1592.3 637.1l10.0 10.0M1592.3 647.1l10.0 -10.0M1592.9 643.4h17.0M1601.4 634.9v17.0M1596.4 638.4l10.0 10.0M1596.4 648.4l10.0 -10.0M1541.2 559.0h17.0M1549.7 550.5v17.0M1544.7 554.0l10.0 10.0M1544.7 564.0l10.0 -10.0M1545.6 671.3h17.0M1554.1 662.8v17.0M1549.1 666.3l10.0 10.0M1549.1 676.3l10.0 -10.0M1552.3 611.0h17.0M1560.8 602.5v17.0M1555.8 606.0l10.0 10.0M1555.8 616.0l10.0 -10.0M1560.8 678.8h17.0M1569.3 670.3v17.0M1564.3 673.8l10.0 10.0M1564.3 683.8l10.0 -10.0M1566.1 681.3h17.0M1574.6 672.8v17.0M1569.6 676.3l10.0 10.0M1569.6 686.3l10.0 -10.0M1570.8 588.2h17.0M1579.3 579.7v17.0M1574.3 583.2l10.0 10.0M1574.3 593.2l10.0 -10.0M1581.0 588.2h17.0M1589.5 579.7v17.0M1584.5 583.2l10.0 10.0M1584.5 593.2l10.0 -10.0M1585.4 611.0h17.0M1593.9 602.5v17.0M1588.9 606.0l10.0 10.0M1588.9 616.0l10.0 -10.0M1592.4 614.9h17.0M1600.9 606.4v17.0M1595.9 609.9l10.0 10.0M1595.9 619.9l10.0 -10.0M1595.1 616.6h17.0M1603.6 608.1v17.0M1598.6 611.6l10.0 10.0M1598.6 621.6l10.0 -10.0M1597.9 617.8h17.0M1606.4 609.3v17.0M1601.4 612.8l10.0 10.0M1601.4 622.8l10.0 -10.0M1600.7 620.3h17.0M1609.2 611.8v17.0M1604.2 615.3l10.0 10.0M1604.2 625.3l10.0 -10.0M1603.1 622.9h17.0M1611.6 614.4v17.0M1606.6 617.9l10.0 10.0M1606.6 627.9l10.0 -10.0M1608.1 670.3h17.0M1616.6 661.8v17.0M1611.6 665.3l10.0 10.0M1611.6 675.3l10.0 -10.0M1618.4 670.3h17.0M1626.9 661.8v17.0M1621.9 665.3l10.0 10.0M1621.9 675.3l10.0 -10.0M1620.9 646.8h17.0M1629.4 638.3v17.0M1624.4 641.8l10.0 10.0M1624.4 651.8l10.0 -10.0M1613.1 709.2h17.0M1621.6 700.7v17.0M1616.6 704.2l10.0 10.0M1616.6 714.2l10.0 -10.0M1614.5 710.9h17.0M1623.0 702.4v17.0M1618.0 705.9l10.0 10.0M1618.0 715.9l10.0 -10.0M1623.3 741.5h17.0M1631.8 733.0v17.0M1626.8 736.5l10.0 10.0M1626.8 746.5l10.0 -10.0M1623.9 742.3h17.0M1632.4 733.8v17.0M1627.4 737.3l10.0 10.0M1627.4 747.3l10.0 -10.0M1627.2 755.6h17.0M1635.7 747.1v17.0M1630.7 750.6l10.0 10.0M1630.7 760.6l10.0 -10.0M1632.5 779.4h17.0M1641.0 770.9v17.0M1636.0 774.4l10.0 10.0M1636.0 784.4l10.0 -10.0M1635.2 709.2h17.0M1643.7 700.7v17.0M1638.7 704.2l10.0 10.0M1638.7 714.2l10.0 -10.0M1640.5 717.7h17.0M1649.0 709.2v17.0M1644.0 712.7l10.0 10.0M1644.0 722.7l10.0 -10.0M1654.0 717.0h17.0M1662.5 708.5v17.0M1657.5 712.0l10.0 10.0M1657.5 722.0l10.0 -10.0M1638.8 734.7h17.0M1647.3 726.2v17.0M1642.3 729.7l10.0 10.0M1642.3 739.7l10.0 -10.0M1642.1 733.8h17.0M1650.6 725.3v17.0M1645.6 728.8l10.0 10.0M1645.6 738.8l10.0 -10.0M1648.8 733.8h17.0M1657.3 725.3v17.0M1652.3 728.8l10.0 10.0M1652.3 738.8l10.0 -10.0M1657.4 742.3h17.0M1665.9 733.8v17.0M1660.9 737.3l10.0 10.0M1660.9 747.3l10.0 -10.0M1657.9 744.0h17.0M1666.4 735.5v17.0M1661.4 739.0l10.0 10.0M1661.4 749.0l10.0 -10.0M1644.4 755.6h17.0M1652.9 747.1v17.0M1647.9 750.6l10.0 10.0M1647.9 760.6l10.0 -10.0M1649.1 759.0h17.0M1657.6 750.5v17.0M1652.6 754.0l10.0 10.0M1652.6 764.0l10.0 -10.0M1674.0 755.6h17.0M1682.5 747.1v17.0M1677.5 750.6l10.0 10.0M1677.5 760.6l10.0 -10.0M1668.7 803.0h17.0M1677.2 794.5v17.0M1672.2 798.0l10.0 10.0M1672.2 808.0l10.0 -10.0M1682.3 806.4h17.0M1690.8 797.9v17.0M1685.8 801.4l10.0 10.0M1685.8 811.4l10.0 -10.0M1687.5 860.6h17.0M1696.0 852.1v17.0M1691.0 855.6l10.0 10.0M1691.0 865.6l10.0 -10.0M1685.0 865.7h17.0M1693.5 857.2v17.0M1688.5 860.7l10.0 10.0M1688.5 870.7l10.0 -10.0M1704.4 766.8h17.0M1712.9 758.3v17.0M1707.9 761.8l10.0 10.0M1707.9 771.8l10.0 -10.0M1717.9 721.8h17.0M1726.4 713.3v17.0M1721.4 716.8l10.0 10.0M1721.4 726.8l10.0 -10.0M1729.0 803.0h17.0M1737.5 794.5v17.0M1732.5 798.0l10.0 10.0M1732.5 808.0l10.0 -10.0M1739.0 814.9h17.0M1747.5 806.4v17.0M1742.5 809.9l10.0 10.0M1742.5 819.9l10.0 -10.0M1740.6 808.1h17.0M1749.1 799.6v17.0M1744.1 803.1l10.0 10.0M1744.1 813.1l10.0 -10.0M1745.9 765.8h17.0M1754.4 757.3v17.0M1749.4 760.8l10.0 10.0M1749.4 770.8l10.0 -10.0M1748.4 787.9h17.0M1756.9 779.4v17.0M1751.9 782.9l10.0 10.0M1751.9 792.9l10.0 -10.0M1750.8 807.4h17.0M1759.3 798.9v17.0M1754.3 802.4l10.0 10.0M1754.3 812.4l10.0 -10.0M1762.7 807.4h17.0M1771.2 798.9v17.0M1766.2 802.4l10.0 10.0M1766.2 812.4l10.0 -10.0M1754.2 860.6h17.0M1762.7 852.1v17.0M1757.7 855.6l10.0 10.0M1757.7 865.6l10.0 -10.0M1759.7 860.1h17.0M1768.2 851.6v17.0M1763.2 855.1l10.0 10.0M1763.2 865.1l10.0 -10.0M1766.1 860.6h17.0M1774.6 852.1v17.0M1769.6 855.6l10.0 10.0M1769.6 865.6l10.0 -10.0M1756.9 879.3h17.0M1765.4 870.8v17.0M1760.4 874.3l10.0 10.0M1760.4 884.3l10.0 -10.0M1769.4 893.4h17.0M1777.9 884.9v17.0M1772.9 888.4l10.0 10.0M1772.9 898.4l10.0 -10.0M1773.0 893.9h17.0M1781.5 885.4v17.0M1776.5 888.9l10.0 10.0M1776.5 898.9l10.0 -10.0M1774.9 894.9h17.0M1783.4 886.4v17.0M1778.4 889.9l10.0 10.0M1778.4 899.9l10.0 -10.0M1768.0 927.7h17.0M1776.5 919.2v17.0M1771.5 922.7l10.0 10.0M1771.5 932.7l10.0 -10.0M1792.3 927.7h17.0M1800.8 919.2v17.0M1795.8 922.7l10.0 10.0M1795.8 932.7l10.0 -10.0M1786.5 937.6h17.0M1795.0 929.1v17.0M1790.0 932.6l10.0 10.0M1790.0 942.6l10.0 -10.0M1779.1 951.0h17.0M1787.6 942.5v17.0M1782.6 946.0l10.0 10.0M1782.6 956.0l10.0 -10.0M1780.7 949.5h17.0M1789.2 941.0v17.0M1784.2 944.5l10.0 10.0M1784.2 954.5l10.0 -10.0M1799.2 949.8h17.0M1807.7 941.3v17.0M1802.7 944.8l10.0 10.0M1802.7 954.8l10.0 -10.0M1797.6 948.3h17.0M1806.1 939.8v17.0M1801.1 943.3l10.0 10.0M1801.1 953.3l10.0 -10.0M1785.7 962.7h17.0M1794.2 954.2v17.0M1789.2 957.7l10.0 10.0M1789.2 967.7l10.0 -10.0M1656.0 780.7h17.0M1664.5 772.2v17.0M1659.5 775.7l10.0 10.0M1659.5 785.7l10.0 -10.0M1658.9 782.8h17.0M1667.4 774.3v17.0M1662.4 777.8l10.0 10.0M1662.4 787.8l10.0 -10.0M1661.8 778.9h17.0M1670.3 770.4v17.0M1665.3 773.9l10.0 10.0M1665.3 783.9l10.0 -10.0M1664.7 778.4h17.0M1673.2 769.9v17.0M1668.2 773.4l10.0 10.0M1668.2 783.4l10.0 -10.0M1667.6 780.5h17.0M1676.1 772.0v17.0M1671.1 775.5l10.0 10.0M1671.1 785.5l10.0 -10.0M1670.5 779.1h17.0M1679.0 770.6v17.0M1674.0 774.1l10.0 10.0M1674.0 784.1l10.0 -10.0M1673.4 785.0h17.0M1681.9 776.5v17.0M1676.9 780.0l10.0 10.0M1676.9 790.0l10.0 -10.0M1676.3 784.2h17.0M1684.8 775.7v17.0M1679.8 779.2l10.0 10.0M1679.8 789.2l10.0 -10.0M1679.2 783.3h17.0M1687.7 774.8v17.0M1682.7 778.3l10.0 10.0M1682.7 788.3l10.0 -10.0M1682.1 780.9h17.0M1690.6 772.4v17.0M1685.6 775.9l10.0 10.0M1685.6 785.9l10.0 -10.0M1685.0 781.4h17.0M1693.5 772.9v17.0M1688.5 776.4l10.0 10.0M1688.5 786.4l10.0 -10.0M1687.9 785.1h17.0M1696.4 776.6v17.0M1691.4 780.1l10.0 10.0M1691.4 790.1l10.0 -10.0M1690.8 786.4h17.0M1699.3 777.9v17.0M1694.3 781.4l10.0 10.0M1694.3 791.4l10.0 -10.0M1693.7 785.8h17.0M1702.2 777.3v17.0M1697.2 780.8l10.0 10.0M1697.2 790.8l10.0 -10.0M1696.6 785.9h17.0M1705.1 777.4v17.0M1700.1 780.9l10.0 10.0M1700.1 790.9l10.0 -10.0M1699.5 783.8h17.0M1708.0 775.3v17.0M1703.0 778.8l10.0 10.0M1703.0 788.8l10.0 -10.0M1702.4 788.6h17.0M1710.9 780.1v17.0M1705.9 783.6l10.0 10.0M1705.9 793.6l10.0 -10.0M1705.3 785.5h17.0M1713.8 777.0v17.0M1708.8 780.5l10.0 10.0M1708.8 790.5l10.0 -10.0M1708.3 786.3h17.0M1716.8 777.8v17.0M1711.8 781.3l10.0 10.0M1711.8 791.3l10.0 -10.0M1711.2 786.3h17.0M1719.7 777.8v17.0M1714.7 781.3l10.0 10.0M1714.7 791.3l10.0 -10.0M1714.1 787.0h17.0M1722.6 778.5v17.0M1717.6 782.0l10.0 10.0M1717.6 792.0l10.0 -10.0M1717.0 788.5h17.0M1725.5 780.0v17.0M1720.5 783.5l10.0 10.0M1720.5 793.5l10.0 -10.0M1719.9 790.5h17.0M1728.4 782.0v17.0M1723.4 785.5l10.0 10.0M1723.4 795.5l10.0 -10.0M1722.8 791.1h17.0M1731.3 782.6v17.0M1726.3 786.1l10.0 10.0M1726.3 796.1l10.0 -10.0M1725.7 791.3h17.0M1734.2 782.8v17.0M1729.2 786.3l10.0 10.0M1729.2 796.3l10.0 -10.0M1728.6 789.3h17.0M1737.1 780.8v17.0M1732.1 784.3l10.0 10.0M1732.1 794.3l10.0 -10.0M1731.5 793.8h17.0M1740.0 785.3v17.0M1735.0 788.8l10.0 10.0M1735.0 798.8l10.0 -10.0M1734.4 793.6h17.0M1742.9 785.1v17.0M1737.9 788.6l10.0 10.0M1737.9 798.6l10.0 -10.0M1737.3 790.8h17.0M1745.8 782.3v17.0M1740.8 785.8l10.0 10.0M1740.8 795.8l10.0 -10.0M1740.2 794.2h17.0M1748.7 785.7v17.0M1743.7 789.2l10.0 10.0M1743.7 799.2l10.0 -10.0" stroke="#4d4d4d" stroke-width="2" fill="none" shape-rendering="crispEdges"/>
<path d="M205.5 38.0V1013.0M204.0 1011.5H1866.0M204.0 39.5H1866.0" stroke="#262626" stroke-width="3" fill="none" shape-rendering="crispEdges"/>
<path d="M1865.0 39.5V1011.5" stroke="#262626" stroke-width="2" fill="none" shape-rendering="crispEdges"/>
<text x="205.0" y="1080" font-size="54.8" text-anchor="middle" fill="#262626">0</text>
<text x="481.6" y="1080" font-size="54.8" text-anchor="middle" fill="#262626">100</text>
<text x="758.2" y="1080" font-size="54.8" text-anchor="middle" fill="#262626">200</text>
<text x="1034.8" y="1080" font-size="54.8" text-anchor="middle" fill="#262626">300</text>
<text x="1311.3" y="1080" font-size="54.8" text-anchor="middle" fill="#262626">400</text>
<text x="1587.9" y="1080" font-size="54.8" text-anchor="middle" fill="#262626">500</text>
<text x="1864.5" y="1080" font-size="54.8" text-anchor="middle" fill="#262626">600</text>
<text x="185.3" y="1030.5" font-size="54.8" text-anchor="end" fill="#262626">1150</text>
<text x="188" y="909.0" font-size="54.8" text-anchor="end" fill="#262626">1200</text>
<text x="188" y="787.5" font-size="54.8" text-anchor="end" fill="#262626">1250</text>
<text x="188" y="666.0" font-size="54.8" text-anchor="end" fill="#262626">1300</text>
<text x="188" y="544.5" font-size="54.8" text-anchor="end" fill="#262626">1350</text>
<text x="188" y="423.0" font-size="54.8" text-anchor="end" fill="#262626">1400</text>
<text x="188" y="301.5" font-size="54.8" text-anchor="end" fill="#262626">1450</text>
<text x="188" y="180.0" font-size="54.8" text-anchor="end" fill="#262626">1500</text>
<text x="188" y="58.5" font-size="54.8" text-anchor="end" fill="#262626">1550</text>
<text x="1033.5" y="1150.7" font-size="59.7" text-anchor="middle" fill="#262626">Cycle life(times)</text>
<text transform="translate(54.6,529) rotate(-90)" font-size="59.7" text-anchor="middle" fill="#262626">Available capacity(mAh)</text>
<rect x="1267" y="73" width="564.3" height="127" fill="#fff" stroke="#262626" stroke-width="2" shape-rendering="crispEdges"/>
<circle cx="1315" cy="105.3" r="7.0" stroke="#ff0000" stroke-width="2" fill="none" shape-rendering="crispEdges"/>
<path d="M1308.0 165.5h17.0M1316.5 157.0v17.0M1311.5 160.5l10.0 10.0M1311.5 170.5l10.0 -10.0" stroke="#4d4d4d" stroke-width="2" fill="none" shape-rendering="crispEdges"/>
<text x="1375" y="124.3" font-size="49.2" fill="#000">Experimental data</text>
<text x="1362" y="183" font-size="49.2" fill="#000">Regression prediction</text>
</svg></body></html>
